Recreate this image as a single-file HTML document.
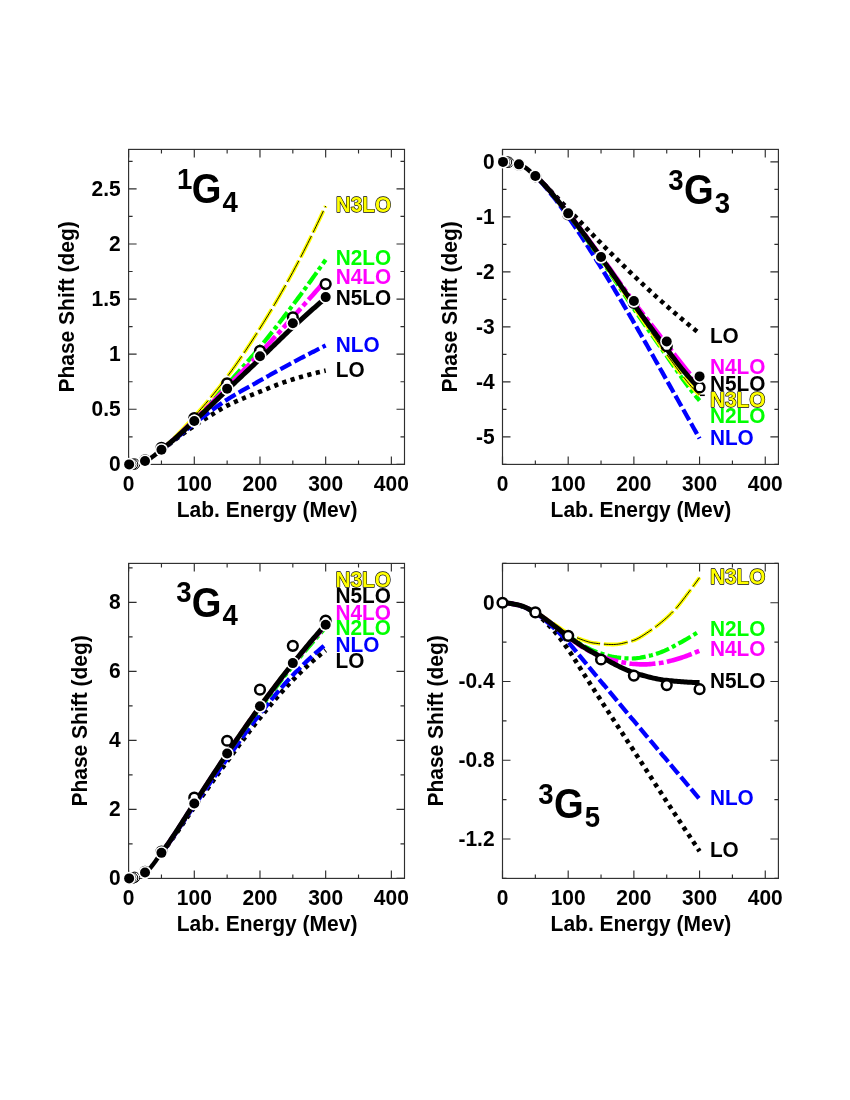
<!DOCTYPE html>
<html lang="en">
<head>
<meta charset="utf-8">
<title>Peripheral NN phase shifts (G waves)</title>
<style>
html,body{margin:0;padding:0;background:#fff;}
body{width:850px;height:1100px;overflow:hidden;font-family:"Liberation Sans",sans-serif;}
svg{display:block;will-change:transform;}
</style>
</head>
<body>
<svg width="850" height="1100" viewBox="0 0 850 1100" font-family='"Liberation Sans", sans-serif' font-weight="bold" fill="#000">
<rect width="850" height="1100" fill="#fff"/>
<g id="p1">
<rect x="128.6" y="149.4" width="275.9" height="315" fill="none" stroke="#2e2e2e" stroke-width="1.15"/>
<path d="M128.6 464.4 v-8 M128.6 149.4 v8 M161.45 464.4 v-4 M161.45 149.4 v4 M194.29 464.4 v-8 M194.29 149.4 v8 M227.14 464.4 v-4 M227.14 149.4 v4 M259.98 464.4 v-8 M259.98 149.4 v8 M292.83 464.4 v-4 M292.83 149.4 v4 M325.67 464.4 v-8 M325.67 149.4 v8 M358.52 464.4 v-4 M358.52 149.4 v4 M391.36 464.4 v-8 M391.36 149.4 v8 M128.6 464.4 h8 M404.5 464.4 h-8 M128.6 436.85 h4 M404.5 436.85 h-4 M128.6 409.29 h8 M404.5 409.29 h-8 M128.6 381.74 h4 M404.5 381.74 h-4 M128.6 354.18 h8 M404.5 354.18 h-8 M128.6 326.63 h4 M404.5 326.63 h-4 M128.6 299.07 h8 M404.5 299.07 h-8 M128.6 271.52 h4 M404.5 271.52 h-4 M128.6 243.97 h8 M404.5 243.97 h-8 M128.6 216.41 h4 M404.5 216.41 h-4 M128.6 188.86 h8 M404.5 188.86 h-8 M128.6 161.3 h4 M404.5 161.3 h-4" stroke="#2e2e2e" stroke-width="1.15" fill="none"/>
<text transform="translate(128.6 490.9) scale(1 1.08)" font-size="21" text-anchor="middle">0</text>
<text transform="translate(194.29 490.9) scale(1 1.08)" font-size="21" text-anchor="middle">100</text>
<text transform="translate(259.98 490.9) scale(1 1.08)" font-size="21" text-anchor="middle">200</text>
<text transform="translate(325.67 490.9) scale(1 1.08)" font-size="21" text-anchor="middle">300</text>
<text transform="translate(391.36 490.9) scale(1 1.08)" font-size="21" text-anchor="middle">400</text>
<text transform="translate(120.7 471.2) scale(1 1.08)" font-size="21" text-anchor="end">0</text>
<text transform="translate(120.7 416.09) scale(1 1.08)" font-size="21" text-anchor="end">0.5</text>
<text transform="translate(120.7 360.98) scale(1 1.08)" font-size="21" text-anchor="end">1</text>
<text transform="translate(120.7 305.87) scale(1 1.08)" font-size="21" text-anchor="end">1.5</text>
<text transform="translate(120.7 250.77) scale(1 1.08)" font-size="21" text-anchor="end">2</text>
<text transform="translate(120.7 195.66) scale(1 1.08)" font-size="21" text-anchor="end">2.5</text>
<text transform="translate(267.05 516.8) scale(1 1.05)" font-size="21" text-anchor="middle">Lab. Energy (Mev)</text>
<text transform="translate(73.8 306.9) rotate(-90) scale(1 1.05)" font-size="21" text-anchor="middle">Phase Shift (deg)</text>
<path d="M161.45 450.07 L162.83 449.08 L164.21 448.07 L165.59 447.03 L166.97 445.98 L168.35 444.92 L169.73 443.85 L171.11 442.78 L172.49 441.71 L173.87 440.64 L175.25 439.59 L176.63 438.54 L178.01 437.52 L179.39 436.5 L180.77 435.48 L182.15 434.46 L183.53 433.45 L184.91 432.44 L186.29 431.44 L187.67 430.45 L189.05 429.46 L190.43 428.49 L191.81 427.53 L193.19 426.57 L194.57 425.64 L195.95 424.71 L197.33 423.8 L198.71 422.9 L200.09 422 L201.47 421.12 L202.85 420.24 L204.23 419.37 L205.61 418.51 L206.99 417.65 L208.37 416.8 L209.75 415.95 L211.13 415.1 L212.51 414.25 L213.89 413.39 L215.27 412.53 L216.65 411.68 L218.03 410.83 L219.41 409.99 L220.79 409.16 L222.17 408.36 L223.55 407.57 L224.93 406.81 L226.31 406.08 L227.69 405.38 L229.07 404.7 L230.45 404.03 L231.83 403.37 L233.21 402.73 L234.59 402.1 L235.97 401.48 L237.35 400.88 L238.73 400.28 L240.11 399.69 L241.49 399.11 L242.87 398.53 L244.25 397.96 L245.63 397.4 L247.01 396.84 L248.39 396.28 L249.77 395.73 L251.15 395.18 L252.53 394.63 L253.91 394.08 L255.29 393.54 L256.67 392.99 L258.05 392.43 L259.43 391.88 L260.81 391.32 L262.19 390.76 L263.57 390.2 L264.95 389.64 L266.33 389.08 L267.71 388.53 L269.09 387.97 L270.47 387.42 L271.85 386.87 L273.23 386.32 L274.61 385.78 L275.99 385.25 L277.37 384.72 L278.75 384.2 L280.13 383.68 L281.51 383.18 L282.89 382.68 L284.27 382.2 L285.65 381.72 L287.03 381.26 L288.41 380.8 L289.79 380.35 L291.17 379.91 L292.55 379.48 L293.93 379.05 L295.31 378.63 L296.69 378.21 L298.07 377.81 L299.45 377.4 L300.83 377 L302.21 376.61 L303.59 376.22 L304.97 375.84 L306.35 375.46 L307.73 375.08 L309.11 374.71 L310.49 374.34 L311.87 373.98 L313.25 373.62 L314.63 373.27 L316.01 372.92 L317.39 372.57 L318.77 372.23 L320.15 371.9 L321.53 371.57 L322.91 371.24 L324.29 370.92 L325.67 370.61" fill="none" stroke="#000" stroke-width="4.6" stroke-dasharray="4.2 4.5" stroke-dashoffset="0.01"/>
<path d="M161.45 449.96 L162.83 448.94 L164.21 447.89 L165.59 446.82 L166.97 445.73 L168.35 444.62 L169.73 443.5 L171.11 442.37 L172.49 441.23 L173.87 440.1 L175.25 438.97 L176.63 437.85 L178.01 436.74 L179.39 435.62 L180.77 434.51 L182.15 433.39 L183.53 432.27 L184.91 431.14 L186.29 430.02 L187.67 428.9 L189.05 427.79 L190.43 426.68 L191.81 425.58 L193.19 424.49 L194.57 423.4 L195.95 422.33 L197.33 421.26 L198.71 420.19 L200.09 419.13 L201.47 418.08 L202.85 417.03 L204.23 415.98 L205.61 414.95 L206.99 413.91 L208.37 412.89 L209.75 411.87 L211.13 410.86 L212.51 409.85 L213.89 408.84 L215.27 407.84 L216.65 406.83 L218.03 405.84 L219.41 404.85 L220.79 403.88 L222.17 402.91 L223.55 401.97 L224.93 401.04 L226.31 400.13 L227.69 399.24 L229.07 398.37 L230.45 397.5 L231.83 396.65 L233.21 395.82 L234.59 394.99 L235.97 394.17 L237.35 393.36 L238.73 392.56 L240.11 391.76 L241.49 390.97 L242.87 390.19 L244.25 389.41 L245.63 388.64 L247.01 387.87 L248.39 387.1 L249.77 386.33 L251.15 385.56 L252.53 384.8 L253.91 384.03 L255.29 383.26 L256.67 382.5 L258.05 381.72 L259.43 380.95 L260.81 380.17 L262.19 379.39 L263.57 378.61 L264.95 377.83 L266.33 377.05 L267.71 376.28 L269.09 375.5 L270.47 374.73 L271.85 373.96 L273.23 373.18 L274.61 372.41 L275.99 371.65 L277.37 370.88 L278.75 370.12 L280.13 369.35 L281.51 368.59 L282.89 367.83 L284.27 367.08 L285.65 366.32 L287.03 365.57 L288.41 364.83 L289.79 364.08 L291.17 363.34 L292.55 362.6 L293.93 361.86 L295.31 361.12 L296.69 360.39 L298.07 359.66 L299.45 358.93 L300.83 358.2 L302.21 357.48 L303.59 356.76 L304.97 356.04 L306.35 355.32 L307.73 354.6 L309.11 353.89 L310.49 353.17 L311.87 352.46 L313.25 351.75 L314.63 351.05 L316.01 350.34 L317.39 349.64 L318.77 348.94 L320.15 348.24 L321.53 347.55 L322.91 346.86 L324.29 346.16 L325.67 345.48" fill="none" stroke="#0000ff" stroke-width="4.3" stroke-dasharray="12.2 3.7" stroke-dashoffset="14.94"/>
<path d="M161.45 449.74 L162.83 448.66 L164.21 447.55 L165.59 446.41 L166.97 445.25 L168.35 444.06 L169.73 442.85 L171.11 441.62 L172.49 440.38 L173.87 439.11 L175.25 437.83 L176.63 436.53 L178.01 435.22 L179.39 433.9 L180.77 432.57 L182.15 431.22 L183.53 429.87 L184.91 428.51 L186.29 427.15 L187.67 425.78 L189.05 424.42 L190.43 423.04 L191.81 421.67 L193.19 420.3 L194.57 418.94 L195.95 417.57 L197.33 416.18 L198.71 414.79 L200.09 413.38 L201.47 411.97 L202.85 410.55 L204.23 409.12 L205.61 407.68 L206.99 406.24 L208.37 404.78 L209.75 403.32 L211.13 401.86 L212.51 400.38 L213.89 398.9 L215.27 397.42 L216.65 395.93 L218.03 394.44 L219.41 392.94 L220.79 391.44 L222.17 389.93 L223.55 388.42 L224.93 386.91 L226.31 385.4 L227.69 383.89 L229.07 382.37 L230.45 380.85 L231.83 379.33 L233.21 377.8 L234.59 376.27 L235.97 374.73 L237.35 373.19 L238.73 371.65 L240.11 370.1 L241.49 368.54 L242.87 366.98 L244.25 365.41 L245.63 363.84 L247.01 362.26 L248.39 360.67 L249.77 359.07 L251.15 357.47 L252.53 355.86 L253.91 354.24 L255.29 352.62 L256.67 350.98 L258.05 349.34 L259.43 347.68 L260.81 346.02 L262.19 344.35 L263.57 342.66 L264.95 340.97 L266.33 339.27 L267.71 337.56 L269.09 335.84 L270.47 334.11 L271.85 332.37 L273.23 330.62 L274.61 328.87 L275.99 327.11 L277.37 325.34 L278.75 323.57 L280.13 321.79 L281.51 320 L282.89 318.2 L284.27 316.4 L285.65 314.6 L287.03 312.79 L288.41 310.97 L289.79 309.15 L291.17 307.33 L292.55 305.5 L293.93 303.67 L295.31 301.83 L296.69 299.98 L298.07 298.13 L299.45 296.27 L300.83 294.41 L302.21 292.53 L303.59 290.65 L304.97 288.77 L306.35 286.88 L307.73 284.98 L309.11 283.07 L310.49 281.16 L311.87 279.24 L313.25 277.32 L314.63 275.39 L316.01 273.45 L317.39 271.51 L318.77 269.56 L320.15 267.61 L321.53 265.65 L322.91 263.68 L324.29 261.71 L325.67 259.73" fill="none" stroke="#00ff00" stroke-width="4.2" stroke-dasharray="14 3.3 4.1 3.3" stroke-dashoffset="0.22"/>
<path d="M161.45 449.52 L162.83 448.39 L164.21 447.22 L165.59 446.02 L166.97 444.79 L168.35 443.53 L169.73 442.25 L171.11 440.94 L172.49 439.6 L173.87 438.24 L175.25 436.86 L176.63 435.46 L178.01 434.04 L179.39 432.6 L180.77 431.15 L182.15 429.68 L183.53 428.21 L184.91 426.72 L186.29 425.23 L187.67 423.72 L189.05 422.21 L190.43 420.7 L191.81 419.19 L193.19 417.67 L194.57 416.15 L195.95 414.63 L197.33 413.09 L198.71 411.55 L200.09 409.99 L201.47 408.42 L202.85 406.83 L204.23 405.24 L205.61 403.63 L206.99 402.01 L208.37 400.37 L209.75 398.72 L211.13 397.06 L212.51 395.39 L213.89 393.7 L215.27 392 L216.65 390.29 L218.03 388.56 L219.41 386.81 L220.79 385.05 L222.17 383.28 L223.55 381.49 L224.93 379.69 L226.31 377.88 L227.69 376.04 L229.07 374.19 L230.45 372.32 L231.83 370.42 L233.21 368.51 L234.59 366.57 L235.97 364.62 L237.35 362.65 L238.73 360.67 L240.11 358.66 L241.49 356.64 L242.87 354.61 L244.25 352.56 L245.63 350.49 L247.01 348.41 L248.39 346.32 L249.77 344.21 L251.15 342.09 L252.53 339.96 L253.91 337.82 L255.29 335.67 L256.67 333.51 L258.05 331.34 L259.43 329.16 L260.81 326.97 L262.19 324.76 L263.57 322.55 L264.95 320.32 L266.33 318.07 L267.71 315.82 L269.09 313.54 L270.47 311.26 L271.85 308.96 L273.23 306.64 L274.61 304.31 L275.99 301.97 L277.37 299.6 L278.75 297.23 L280.13 294.84 L281.51 292.43 L282.89 290 L284.27 287.57 L285.65 285.11 L287.03 282.64 L288.41 280.15 L289.79 277.64 L291.17 275.12 L292.55 272.58 L293.93 270.02 L295.31 267.45 L296.69 264.85 L298.07 262.23 L299.45 259.6 L300.83 256.94 L302.21 254.27 L303.59 251.57 L304.97 248.86 L306.35 246.13 L307.73 243.38 L309.11 240.61 L310.49 237.83 L311.87 235.03 L313.25 232.21 L314.63 229.37 L316.01 226.51 L317.39 223.64 L318.77 220.75 L320.15 217.84 L321.53 214.92 L322.91 211.98 L324.29 209.02 L325.67 206.05" fill="none" stroke="#ffff00" stroke-width="3.8" stroke-dasharray="24 3.8" stroke-dashoffset="11.67"/>
<path d="M161.45 449.52 L162.83 448.39 L164.21 447.22 L165.59 446.02 L166.97 444.79 L168.35 443.53 L169.73 442.25 L171.11 440.94 L172.49 439.6 L173.87 438.24 L175.25 436.86 L176.63 435.46 L178.01 434.04 L179.39 432.6 L180.77 431.15 L182.15 429.68 L183.53 428.21 L184.91 426.72 L186.29 425.23 L187.67 423.72 L189.05 422.21 L190.43 420.7 L191.81 419.19 L193.19 417.67 L194.57 416.15 L195.95 414.63 L197.33 413.09 L198.71 411.55 L200.09 409.99 L201.47 408.42 L202.85 406.83 L204.23 405.24 L205.61 403.63 L206.99 402.01 L208.37 400.37 L209.75 398.72 L211.13 397.06 L212.51 395.39 L213.89 393.7 L215.27 392 L216.65 390.29 L218.03 388.56 L219.41 386.81 L220.79 385.05 L222.17 383.28 L223.55 381.49 L224.93 379.69 L226.31 377.88 L227.69 376.04 L229.07 374.19 L230.45 372.32 L231.83 370.42 L233.21 368.51 L234.59 366.57 L235.97 364.62 L237.35 362.65 L238.73 360.67 L240.11 358.66 L241.49 356.64 L242.87 354.61 L244.25 352.56 L245.63 350.49 L247.01 348.41 L248.39 346.32 L249.77 344.21 L251.15 342.09 L252.53 339.96 L253.91 337.82 L255.29 335.67 L256.67 333.51 L258.05 331.34 L259.43 329.16 L260.81 326.97 L262.19 324.76 L263.57 322.55 L264.95 320.32 L266.33 318.07 L267.71 315.82 L269.09 313.54 L270.47 311.26 L271.85 308.96 L273.23 306.64 L274.61 304.31 L275.99 301.97 L277.37 299.6 L278.75 297.23 L280.13 294.84 L281.51 292.43 L282.89 290 L284.27 287.57 L285.65 285.11 L287.03 282.64 L288.41 280.15 L289.79 277.64 L291.17 275.12 L292.55 272.58 L293.93 270.02 L295.31 267.45 L296.69 264.85 L298.07 262.23 L299.45 259.6 L300.83 256.94 L302.21 254.27 L303.59 251.57 L304.97 248.86 L306.35 246.13 L307.73 243.38 L309.11 240.61 L310.49 237.83 L311.87 235.03 L313.25 232.21 L314.63 229.37 L316.01 226.51 L317.39 223.64 L318.77 220.75 L320.15 217.84 L321.53 214.92 L322.91 211.98 L324.29 209.02 L325.67 206.05" fill="none" stroke="#000" stroke-width="0.95" stroke-dasharray="24 3.8" stroke-dashoffset="11.67"/>
<path d="M161.45 449.74 L162.83 448.67 L164.21 447.58 L165.59 446.47 L166.97 445.34 L168.35 444.18 L169.73 443.01 L171.11 441.82 L172.49 440.62 L173.87 439.4 L175.25 438.16 L176.63 436.91 L178.01 435.65 L179.39 434.38 L180.77 433.1 L182.15 431.82 L183.53 430.52 L184.91 429.22 L186.29 427.92 L187.67 426.61 L189.05 425.3 L190.43 423.98 L191.81 422.67 L193.19 421.36 L194.57 420.05 L195.95 418.73 L197.33 417.41 L198.71 416.07 L200.09 414.72 L201.47 413.37 L202.85 412 L204.23 410.63 L205.61 409.25 L206.99 407.86 L208.37 406.47 L209.75 405.07 L211.13 403.67 L212.51 402.26 L213.89 400.85 L215.27 399.44 L216.65 398.02 L218.03 396.6 L219.41 395.18 L220.79 393.77 L222.17 392.35 L223.55 390.93 L224.93 389.51 L226.31 388.1 L227.69 386.68 L229.07 385.27 L230.45 383.86 L231.83 382.44 L233.21 381.02 L234.59 379.6 L235.97 378.18 L237.35 376.76 L238.73 375.34 L240.11 373.91 L241.49 372.48 L242.87 371.05 L244.25 369.62 L245.63 368.18 L247.01 366.75 L248.39 365.3 L249.77 363.86 L251.15 362.41 L252.53 360.96 L253.91 359.51 L255.29 358.06 L256.67 356.6 L258.05 355.13 L259.43 353.67 L260.81 352.2 L262.19 350.72 L263.57 349.25 L264.95 347.77 L266.33 346.28 L267.71 344.79 L269.09 343.3 L270.47 341.81 L271.85 340.31 L273.23 338.81 L274.61 337.3 L275.99 335.8 L277.37 334.29 L278.75 332.78 L280.13 331.26 L281.51 329.75 L282.89 328.23 L284.27 326.71 L285.65 325.19 L287.03 323.67 L288.41 322.14 L289.79 320.62 L291.17 319.09 L292.55 317.57 L293.93 316.04 L295.31 314.51 L296.69 312.97 L298.07 311.44 L299.45 309.9 L300.83 308.37 L302.21 306.82 L303.59 305.28 L304.97 303.74 L306.35 302.19 L307.73 300.64 L309.11 299.09 L310.49 297.54 L311.87 295.99 L313.25 294.43 L314.63 292.87 L316.01 291.31 L317.39 289.75 L318.77 288.19 L320.15 286.62 L321.53 285.05 L322.91 283.48 L324.29 281.91 L325.67 280.34" fill="none" stroke="#ff00ff" stroke-width="4.6" stroke-dasharray="26 3.4 4.8 3.4" stroke-dashoffset="15.46"/>
<path d="M161.45 449.74 L162.83 448.69 L164.21 447.61 L165.59 446.51 L166.97 445.39 L168.35 444.26 L169.73 443.11 L171.11 441.94 L172.49 440.76 L173.87 439.57 L175.25 438.36 L176.63 437.14 L178.01 435.92 L179.39 434.68 L180.77 433.44 L182.15 432.19 L183.53 430.93 L184.91 429.67 L186.29 428.41 L187.67 427.14 L189.05 425.88 L190.43 424.61 L191.81 423.35 L193.19 422.09 L194.57 420.83 L195.95 419.57 L197.33 418.3 L198.71 417.02 L200.09 415.74 L201.47 414.44 L202.85 413.14 L204.23 411.84 L205.61 410.53 L206.99 409.21 L208.37 407.9 L209.75 406.57 L211.13 405.25 L212.51 403.92 L213.89 402.6 L215.27 401.27 L216.65 399.94 L218.03 398.61 L219.41 397.28 L220.79 395.95 L222.17 394.63 L223.55 393.31 L224.93 391.99 L226.31 390.68 L227.69 389.37 L229.07 388.06 L230.45 386.76 L231.83 385.45 L233.21 384.15 L234.59 382.84 L235.97 381.54 L237.35 380.24 L238.73 378.94 L240.11 377.64 L241.49 376.33 L242.87 375.03 L244.25 373.73 L245.63 372.43 L247.01 371.12 L248.39 369.82 L249.77 368.51 L251.15 367.21 L252.53 365.9 L253.91 364.59 L255.29 363.28 L256.67 361.97 L258.05 360.65 L259.43 359.34 L260.81 358.02 L262.19 356.7 L263.57 355.37 L264.95 354.03 L266.33 352.7 L267.71 351.35 L269.09 350.01 L270.47 348.66 L271.85 347.32 L273.23 345.97 L274.61 344.62 L275.99 343.28 L277.37 341.93 L278.75 340.59 L280.13 339.25 L281.51 337.91 L282.89 336.58 L284.27 335.25 L285.65 333.93 L287.03 332.62 L288.41 331.31 L289.79 330.01 L291.17 328.72 L292.55 327.44 L293.93 326.16 L295.31 324.89 L296.69 323.62 L298.07 322.36 L299.45 321.1 L300.83 319.85 L302.21 318.59 L303.59 317.35 L304.97 316.11 L306.35 314.87 L307.73 313.63 L309.11 312.4 L310.49 311.18 L311.87 309.95 L313.25 308.74 L314.63 307.52 L316.01 306.31 L317.39 305.11 L318.77 303.91 L320.15 302.71 L321.53 301.52 L322.91 300.33 L324.29 299.15 L325.67 297.97" fill="none" stroke="#000" stroke-width="5.0"/>
<path d="M145.02 460.98 L146.52 460.42 L148.01 459.7 L149.5 458.85 L150.99 457.88 L152.49 456.82 L153.98 455.69 L155.47 454.51 L156.97 453.3 L158.46 452.09 L159.95 450.9 L161.45 449.74" fill="none" stroke="#000" stroke-width="4.4"/>
<circle cx="134.51" cy="464.07" r="5.25" fill="#fff" stroke="#000" stroke-width="1"/>
<circle cx="132.54" cy="464.29" r="5.25" fill="#fff" stroke="#000" stroke-width="1"/>
<circle cx="130.57" cy="464.4" r="5.25" fill="#fff" stroke="#000" stroke-width="1"/>
<circle cx="145.02" cy="460.43" r="4.85" fill="#fff" stroke="#000" stroke-width="2.5"/>
<circle cx="161.45" cy="447.87" r="4.85" fill="#fff" stroke="#000" stroke-width="2.5"/>
<circle cx="194.29" cy="418.11" r="4.85" fill="#fff" stroke="#000" stroke-width="2.5"/>
<circle cx="227.14" cy="383.39" r="4.85" fill="#fff" stroke="#000" stroke-width="2.5"/>
<circle cx="259.98" cy="350.88" r="4.85" fill="#fff" stroke="#000" stroke-width="2.5"/>
<circle cx="292.83" cy="317.26" r="4.85" fill="#fff" stroke="#000" stroke-width="2.5"/>
<circle cx="325.67" cy="284.09" r="4.85" fill="#fff" stroke="#000" stroke-width="2.5"/>
<circle cx="129.13" cy="464.4" r="6.6" fill="#fff"/><circle cx="129.13" cy="464.4" r="5.0" fill="#000"/>
<circle cx="145.02" cy="460.98" r="6.6" fill="#fff"/><circle cx="145.02" cy="460.98" r="5.0" fill="#000"/>
<circle cx="161.45" cy="449.74" r="6.6" fill="#fff"/><circle cx="161.45" cy="449.74" r="5.0" fill="#000"/>
<circle cx="194.29" cy="421.08" r="6.6" fill="#fff"/><circle cx="194.29" cy="421.08" r="5.0" fill="#000"/>
<circle cx="227.14" cy="388.79" r="6.6" fill="#fff"/><circle cx="227.14" cy="388.79" r="5.0" fill="#000"/>
<circle cx="259.98" cy="356.28" r="6.6" fill="#fff"/><circle cx="259.98" cy="356.28" r="5.0" fill="#000"/>
<circle cx="292.83" cy="323.32" r="6.6" fill="#fff"/><circle cx="292.83" cy="323.32" r="5.0" fill="#000"/>
<circle cx="325.67" cy="297.09" r="6.6" fill="#fff"/><circle cx="325.67" cy="297.09" r="5.0" fill="#000"/>
<text transform="translate(335.7 212.2) scale(1 1.05)" font-size="20.8" fill="#ffff00" stroke="#000" stroke-width="1.2" paint-order="stroke" stroke-linejoin="round">N3LO</text>
<text transform="translate(335.7 265.2) scale(1 1.05)" font-size="20.8" fill="#00ff00">N2LO</text>
<text transform="translate(335.7 284.4) scale(1 1.05)" font-size="20.8" fill="#ff00ff">N4LO</text>
<text transform="translate(335.7 305.4) scale(1 1.05)" font-size="20.8" fill="#000">N5LO</text>
<text transform="translate(335.7 352.1) scale(1 1.05)" font-size="20.8" fill="#0000ff">NLO</text>
<text transform="translate(335.7 377.3) scale(1 1.05)" font-size="20.8" fill="#000">LO</text>
<text transform="translate(177 188.7) scale(1 1.1)" font-size="27.6">1</text><text transform="translate(191.7 203) scale(1 1.12)" font-size="38.2">G</text><text transform="translate(222.5 211.6) scale(1 1.1)" font-size="27.6">4</text>
</g>
<g id="p2">
<rect x="502.5" y="149.4" width="275.9" height="315" fill="none" stroke="#2e2e2e" stroke-width="1.15"/>
<path d="M502.5 464.4 v-8 M502.5 149.4 v8 M535.35 464.4 v-4 M535.35 149.4 v4 M568.19 464.4 v-8 M568.19 149.4 v8 M601.04 464.4 v-4 M601.04 149.4 v4 M633.88 464.4 v-8 M633.88 149.4 v8 M666.73 464.4 v-4 M666.73 149.4 v4 M699.57 464.4 v-8 M699.57 149.4 v8 M732.42 464.4 v-4 M732.42 149.4 v4 M765.26 464.4 v-8 M765.26 149.4 v8 M502.5 464.4 h4 M778.4 464.4 h-4 M502.5 436.9 h8 M778.4 436.9 h-8 M502.5 409.4 h4 M778.4 409.4 h-4 M502.5 381.9 h8 M778.4 381.9 h-8 M502.5 354.39 h4 M778.4 354.39 h-4 M502.5 326.89 h8 M778.4 326.89 h-8 M502.5 299.39 h4 M778.4 299.39 h-4 M502.5 271.89 h8 M778.4 271.89 h-8 M502.5 244.39 h4 M778.4 244.39 h-4 M502.5 216.89 h8 M778.4 216.89 h-8 M502.5 189.39 h4 M778.4 189.39 h-4 M502.5 161.89 h8 M778.4 161.89 h-8" stroke="#2e2e2e" stroke-width="1.15" fill="none"/>
<text transform="translate(502.5 490.9) scale(1 1.08)" font-size="21" text-anchor="middle">0</text>
<text transform="translate(568.19 490.9) scale(1 1.08)" font-size="21" text-anchor="middle">100</text>
<text transform="translate(633.88 490.9) scale(1 1.08)" font-size="21" text-anchor="middle">200</text>
<text transform="translate(699.57 490.9) scale(1 1.08)" font-size="21" text-anchor="middle">300</text>
<text transform="translate(765.26 490.9) scale(1 1.08)" font-size="21" text-anchor="middle">400</text>
<text transform="translate(494.6 168.69) scale(1 1.08)" font-size="21" text-anchor="end">0</text>
<text transform="translate(494.6 223.69) scale(1 1.08)" font-size="21" text-anchor="end">-1</text>
<text transform="translate(494.6 278.69) scale(1 1.08)" font-size="21" text-anchor="end">-2</text>
<text transform="translate(494.6 333.69) scale(1 1.08)" font-size="21" text-anchor="end">-3</text>
<text transform="translate(494.6 388.7) scale(1 1.08)" font-size="21" text-anchor="end">-4</text>
<text transform="translate(494.6 443.7) scale(1 1.08)" font-size="21" text-anchor="end">-5</text>
<text transform="translate(640.95 516.8) scale(1 1.05)" font-size="21" text-anchor="middle">Lab. Energy (Mev)</text>
<text transform="translate(456.7 306.9) rotate(-90) scale(1 1.05)" font-size="21" text-anchor="middle">Phase Shift (deg)</text>
<path d="M535.35 175.64 L536.73 176.8 L538.11 178.04 L539.49 179.35 L540.87 180.7 L542.25 182.1 L543.63 183.54 L545.01 184.99 L546.39 186.47 L547.77 187.94 L549.15 189.41 L550.53 190.86 L551.91 192.28 L553.29 193.69 L554.67 195.11 L556.05 196.54 L557.43 197.97 L558.81 199.41 L560.19 200.84 L561.57 202.28 L562.95 203.72 L564.33 205.16 L565.71 206.6 L567.09 208.04 L568.47 209.47 L569.85 210.91 L571.23 212.35 L572.61 213.79 L573.99 215.23 L575.37 216.67 L576.75 218.11 L578.13 219.56 L579.51 221 L580.89 222.45 L582.27 223.89 L583.65 225.33 L585.03 226.78 L586.41 228.22 L587.79 229.66 L589.17 231.09 L590.55 232.52 L591.93 233.96 L593.31 235.38 L594.69 236.8 L596.07 238.22 L597.45 239.64 L598.83 241.05 L600.21 242.45 L601.59 243.85 L602.97 245.24 L604.35 246.64 L605.73 248.03 L607.11 249.42 L608.49 250.81 L609.87 252.19 L611.25 253.57 L612.63 254.95 L614.01 256.33 L615.39 257.7 L616.77 259.07 L618.15 260.44 L619.53 261.8 L620.91 263.16 L622.29 264.52 L623.67 265.87 L625.05 267.22 L626.43 268.56 L627.81 269.9 L629.19 271.24 L630.57 272.57 L631.95 273.89 L633.33 275.21 L634.71 276.53 L636.09 277.84 L637.47 279.15 L638.85 280.46 L640.23 281.76 L641.61 283.07 L642.99 284.36 L644.37 285.66 L645.75 286.95 L647.13 288.24 L648.51 289.52 L649.89 290.8 L651.27 292.07 L652.65 293.34 L654.03 294.61 L655.41 295.87 L656.79 297.12 L658.17 298.37 L659.55 299.61 L660.93 300.85 L662.31 302.09 L663.69 303.31 L665.07 304.54 L666.45 305.75 L667.83 306.96 L669.21 308.16 L670.59 309.36 L671.97 310.56 L673.35 311.75 L674.73 312.94 L676.11 314.12 L677.49 315.3 L678.87 316.47 L680.25 317.64 L681.63 318.8 L683.01 319.96 L684.39 321.12 L685.77 322.27 L687.15 323.41 L688.53 324.55 L689.91 325.69 L691.29 326.82 L692.67 327.94 L694.05 329.06 L695.43 330.18 L696.81 331.29 L698.19 332.39 L699.57 333.49" fill="none" stroke="#000" stroke-width="4.6" stroke-dasharray="4.2 4.5" stroke-dashoffset="5.71"/>
<path d="M535.35 176.19 L536.73 177.45 L538.11 178.8 L539.49 180.23 L540.87 181.73 L542.25 183.29 L543.63 184.9 L545.01 186.55 L546.39 188.23 L547.77 189.93 L549.15 191.64 L550.53 193.35 L551.91 195.06 L553.29 196.77 L554.67 198.52 L556.05 200.3 L557.43 202.1 L558.81 203.92 L560.19 205.77 L561.57 207.65 L562.95 209.54 L564.33 211.45 L565.71 213.38 L567.09 215.32 L568.47 217.28 L569.85 219.26 L571.23 221.25 L572.61 223.27 L573.99 225.3 L575.37 227.35 L576.75 229.41 L578.13 231.49 L579.51 233.58 L580.89 235.69 L582.27 237.81 L583.65 239.94 L585.03 242.08 L586.41 244.24 L587.79 246.4 L589.17 248.57 L590.55 250.75 L591.93 252.94 L593.31 255.13 L594.69 257.33 L596.07 259.53 L597.45 261.74 L598.83 263.95 L600.21 266.16 L601.59 268.38 L602.97 270.6 L604.35 272.84 L605.73 275.08 L607.11 277.34 L608.49 279.61 L609.87 281.88 L611.25 284.16 L612.63 286.46 L614.01 288.76 L615.39 291.06 L616.77 293.38 L618.15 295.7 L619.53 298.03 L620.91 300.36 L622.29 302.7 L623.67 305.04 L625.05 307.39 L626.43 309.74 L627.81 312.1 L629.19 314.45 L630.57 316.82 L631.95 319.18 L633.33 321.55 L634.71 323.92 L636.09 326.29 L637.47 328.68 L638.85 331.07 L640.23 333.47 L641.61 335.88 L642.99 338.29 L644.37 340.71 L645.75 343.13 L647.13 345.56 L648.51 347.99 L649.89 350.43 L651.27 352.87 L652.65 355.31 L654.03 357.75 L655.41 360.2 L656.79 362.64 L658.17 365.09 L659.55 367.54 L660.93 369.99 L662.31 372.43 L663.69 374.88 L665.07 377.32 L666.45 379.76 L667.83 382.2 L669.21 384.64 L670.59 387.08 L671.97 389.52 L673.35 391.96 L674.73 394.4 L676.11 396.85 L677.49 399.29 L678.87 401.74 L680.25 404.19 L681.63 406.63 L683.01 409.08 L684.39 411.53 L685.77 413.98 L687.15 416.44 L688.53 418.89 L689.91 421.34 L691.29 423.8 L692.67 426.25 L694.05 428.71 L695.43 431.17 L696.81 433.63 L698.19 436.09 L699.57 438.55" fill="none" stroke="#0000ff" stroke-width="4.3" stroke-dasharray="12.2 3.7" stroke-dashoffset="9.36"/>
<path d="M535.35 176.02 L536.73 177.23 L538.11 178.5 L539.49 179.82 L540.87 181.19 L542.25 182.61 L543.63 184.07 L545.01 185.57 L546.39 187.1 L547.77 188.68 L549.15 190.28 L550.53 191.92 L551.91 193.58 L553.29 195.26 L554.67 196.96 L556.05 198.68 L557.43 200.42 L558.81 202.17 L560.19 203.92 L561.57 205.69 L562.95 207.45 L564.33 209.22 L565.71 210.98 L567.09 212.74 L568.47 214.49 L569.85 216.25 L571.23 218.03 L572.61 219.84 L573.99 221.66 L575.37 223.51 L576.75 225.37 L578.13 227.24 L579.51 229.14 L580.89 231.04 L582.27 232.96 L583.65 234.89 L585.03 236.84 L586.41 238.79 L587.79 240.75 L589.17 242.72 L590.55 244.69 L591.93 246.67 L593.31 248.66 L594.69 250.64 L596.07 252.63 L597.45 254.62 L598.83 256.61 L600.21 258.6 L601.59 260.59 L602.97 262.58 L604.35 264.6 L605.73 266.62 L607.11 268.65 L608.49 270.7 L609.87 272.75 L611.25 274.81 L612.63 276.88 L614.01 278.96 L615.39 281.03 L616.77 283.12 L618.15 285.2 L619.53 287.28 L620.91 289.37 L622.29 291.45 L623.67 293.53 L625.05 295.61 L626.43 297.68 L627.81 299.75 L629.19 301.81 L630.57 303.86 L631.95 305.9 L633.33 307.93 L634.71 309.95 L636.09 311.97 L637.47 313.99 L638.85 316 L640.23 318 L641.61 320.01 L642.99 322.01 L644.37 324 L645.75 326 L647.13 327.99 L648.51 329.98 L649.89 331.96 L651.27 333.95 L652.65 335.93 L654.03 337.91 L655.41 339.89 L656.79 341.86 L658.17 343.83 L659.55 345.81 L660.93 347.78 L662.31 349.75 L663.69 351.72 L665.07 353.68 L666.45 355.65 L667.83 357.62 L669.21 359.6 L670.59 361.59 L671.97 363.59 L673.35 365.59 L674.73 367.59 L676.11 369.58 L677.49 371.57 L678.87 373.56 L680.25 375.53 L681.63 377.48 L683.01 379.42 L684.39 381.34 L685.77 383.23 L687.15 385.1 L688.53 386.94 L689.91 388.75 L691.29 390.52 L692.67 392.26 L694.05 393.98 L695.43 395.66 L696.81 397.33 L698.19 398.97 L699.57 400.6" fill="none" stroke="#00ff00" stroke-width="4.2" stroke-dasharray="14 3.3 4.1 3.3"/>
<path d="M535.35 176.02 L536.73 177.23 L538.11 178.49 L539.49 179.81 L540.87 181.17 L542.25 182.58 L543.63 184.04 L545.01 185.53 L546.39 187.06 L547.77 188.62 L549.15 190.22 L550.53 191.84 L551.91 193.49 L553.29 195.16 L554.67 196.86 L556.05 198.56 L557.43 200.29 L558.81 202.02 L560.19 203.76 L561.57 205.5 L562.95 207.25 L564.33 209 L565.71 210.74 L567.09 212.48 L568.47 214.21 L569.85 215.95 L571.23 217.71 L572.61 219.48 L573.99 221.28 L575.37 223.09 L576.75 224.91 L578.13 226.76 L579.51 228.61 L580.89 230.48 L582.27 232.36 L583.65 234.26 L585.03 236.16 L586.41 238.07 L587.79 239.99 L589.17 241.92 L590.55 243.86 L591.93 245.8 L593.31 247.75 L594.69 249.7 L596.07 251.65 L597.45 253.6 L598.83 255.56 L600.21 257.52 L601.59 259.47 L602.97 261.44 L604.35 263.42 L605.73 265.42 L607.11 267.43 L608.49 269.44 L609.87 271.47 L611.25 273.5 L612.63 275.54 L614.01 277.59 L615.39 279.64 L616.77 281.7 L618.15 283.76 L619.53 285.82 L620.91 287.88 L622.29 289.94 L623.67 292 L625.05 294.06 L626.43 296.11 L627.81 298.16 L629.19 300.2 L630.57 302.24 L631.95 304.27 L633.33 306.29 L634.71 308.3 L636.09 310.31 L637.47 312.33 L638.85 314.35 L640.23 316.37 L641.61 318.39 L642.99 320.41 L644.37 322.43 L645.75 324.45 L647.13 326.47 L648.51 328.48 L649.89 330.49 L651.27 332.5 L652.65 334.49 L654.03 336.49 L655.41 338.47 L656.79 340.45 L658.17 342.42 L659.55 344.38 L660.93 346.33 L662.31 348.27 L663.69 350.2 L665.07 352.11 L666.45 354.02 L667.83 355.91 L669.21 357.81 L670.59 359.71 L671.97 361.61 L673.35 363.51 L674.73 365.4 L676.11 367.28 L677.49 369.15 L678.87 371 L680.25 372.83 L681.63 374.64 L683.01 376.43 L684.39 378.19 L685.77 379.91 L687.15 381.6 L688.53 383.26 L689.91 384.87 L691.29 386.44 L692.67 387.97 L694.05 389.46 L695.43 390.91 L696.81 392.33 L698.19 393.73 L699.57 395.1" fill="none" stroke="#ffff00" stroke-width="3.8" stroke-dasharray="24 3.8"/>
<path d="M535.35 176.02 L536.73 177.23 L538.11 178.49 L539.49 179.81 L540.87 181.17 L542.25 182.58 L543.63 184.04 L545.01 185.53 L546.39 187.06 L547.77 188.62 L549.15 190.22 L550.53 191.84 L551.91 193.49 L553.29 195.16 L554.67 196.86 L556.05 198.56 L557.43 200.29 L558.81 202.02 L560.19 203.76 L561.57 205.5 L562.95 207.25 L564.33 209 L565.71 210.74 L567.09 212.48 L568.47 214.21 L569.85 215.95 L571.23 217.71 L572.61 219.48 L573.99 221.28 L575.37 223.09 L576.75 224.91 L578.13 226.76 L579.51 228.61 L580.89 230.48 L582.27 232.36 L583.65 234.26 L585.03 236.16 L586.41 238.07 L587.79 239.99 L589.17 241.92 L590.55 243.86 L591.93 245.8 L593.31 247.75 L594.69 249.7 L596.07 251.65 L597.45 253.6 L598.83 255.56 L600.21 257.52 L601.59 259.47 L602.97 261.44 L604.35 263.42 L605.73 265.42 L607.11 267.43 L608.49 269.44 L609.87 271.47 L611.25 273.5 L612.63 275.54 L614.01 277.59 L615.39 279.64 L616.77 281.7 L618.15 283.76 L619.53 285.82 L620.91 287.88 L622.29 289.94 L623.67 292 L625.05 294.06 L626.43 296.11 L627.81 298.16 L629.19 300.2 L630.57 302.24 L631.95 304.27 L633.33 306.29 L634.71 308.3 L636.09 310.31 L637.47 312.33 L638.85 314.35 L640.23 316.37 L641.61 318.39 L642.99 320.41 L644.37 322.43 L645.75 324.45 L647.13 326.47 L648.51 328.48 L649.89 330.49 L651.27 332.5 L652.65 334.49 L654.03 336.49 L655.41 338.47 L656.79 340.45 L658.17 342.42 L659.55 344.38 L660.93 346.33 L662.31 348.27 L663.69 350.2 L665.07 352.11 L666.45 354.02 L667.83 355.91 L669.21 357.81 L670.59 359.71 L671.97 361.61 L673.35 363.51 L674.73 365.4 L676.11 367.28 L677.49 369.15 L678.87 371 L680.25 372.83 L681.63 374.64 L683.01 376.43 L684.39 378.19 L685.77 379.91 L687.15 381.6 L688.53 383.26 L689.91 384.87 L691.29 386.44 L692.67 387.97 L694.05 389.46 L695.43 390.91 L696.81 392.33 L698.19 393.73 L699.57 395.1" fill="none" stroke="#000" stroke-width="0.95" stroke-dasharray="24 3.8"/>
<path d="M535.35 175.97 L536.73 177.17 L538.11 178.42 L539.49 179.73 L540.87 181.08 L542.25 182.48 L543.63 183.92 L545.01 185.4 L546.39 186.92 L547.77 188.47 L549.15 190.05 L550.53 191.65 L551.91 193.29 L553.29 194.94 L554.67 196.61 L556.05 198.29 L557.43 199.99 L558.81 201.7 L560.19 203.41 L561.57 205.13 L562.95 206.84 L564.33 208.56 L565.71 210.26 L567.09 211.96 L568.47 213.65 L569.85 215.35 L571.23 217.06 L572.61 218.78 L573.99 220.53 L575.37 222.28 L576.75 224.06 L578.13 225.84 L579.51 227.63 L580.89 229.44 L582.27 231.25 L583.65 233.08 L585.03 234.91 L586.41 236.75 L587.79 238.6 L589.17 240.45 L590.55 242.31 L591.93 244.17 L593.31 246.03 L594.69 247.9 L596.07 249.77 L597.45 251.64 L598.83 253.5 L600.21 255.37 L601.59 257.24 L602.97 259.12 L604.35 261.01 L605.73 262.91 L607.11 264.83 L608.49 266.75 L609.87 268.68 L611.25 270.62 L612.63 272.57 L614.01 274.52 L615.39 276.47 L616.77 278.42 L618.15 280.37 L619.53 282.32 L620.91 284.27 L622.29 286.21 L623.67 288.15 L625.05 290.07 L626.43 291.99 L627.81 293.9 L629.19 295.8 L630.57 297.68 L631.95 299.55 L633.33 301.41 L634.71 303.24 L636.09 305.06 L637.47 306.86 L638.85 308.65 L640.23 310.43 L641.61 312.2 L642.99 313.96 L644.37 315.72 L645.75 317.48 L647.13 319.23 L648.51 321 L649.89 322.77 L651.27 324.54 L652.65 326.32 L654.03 328.11 L655.41 329.89 L656.79 331.68 L658.17 333.47 L659.55 335.25 L660.93 337.04 L662.31 338.82 L663.69 340.6 L665.07 342.37 L666.45 344.14 L667.83 345.91 L669.21 347.69 L670.59 349.48 L671.97 351.27 L673.35 353.06 L674.73 354.86 L676.11 356.65 L677.49 358.44 L678.87 360.22 L680.25 361.99 L681.63 363.75 L683.01 365.5 L684.39 367.23 L685.77 368.94 L687.15 370.62 L688.53 372.29 L689.91 373.93 L691.29 375.54 L692.67 377.11 L694.05 378.66 L695.43 380.19 L696.81 381.69 L698.19 383.18 L699.57 384.65" fill="none" stroke="#ff00ff" stroke-width="4.6" stroke-dasharray="26 3.4 4.8 3.4"/>
<path d="M535.35 175.97 L536.73 177.17 L538.11 178.43 L539.49 179.74 L540.87 181.1 L542.25 182.5 L543.63 183.95 L545.01 185.44 L546.39 186.96 L547.77 188.52 L549.15 190.11 L550.53 191.73 L551.91 193.37 L553.29 195.03 L554.67 196.72 L556.05 198.41 L557.43 200.13 L558.81 201.85 L560.19 203.58 L561.57 205.31 L562.95 207.04 L564.33 208.77 L565.71 210.5 L567.09 212.22 L568.47 213.93 L569.85 215.65 L571.23 217.38 L572.61 219.14 L573.99 220.91 L575.37 222.69 L576.75 224.49 L578.13 226.31 L579.51 228.14 L580.89 229.97 L582.27 231.82 L583.65 233.68 L585.03 235.55 L586.41 237.43 L587.79 239.32 L589.17 241.21 L590.55 243.1 L591.93 245 L593.31 246.91 L594.69 248.81 L596.07 250.72 L597.45 252.63 L598.83 254.54 L600.21 256.45 L601.59 258.35 L602.97 260.27 L604.35 262.2 L605.73 264.14 L607.11 266.09 L608.49 268.05 L609.87 270.02 L611.25 271.99 L612.63 273.97 L614.01 275.96 L615.39 277.94 L616.77 279.93 L618.15 281.93 L619.53 283.92 L620.91 285.91 L622.29 287.89 L623.67 289.88 L625.05 291.86 L626.43 293.83 L627.81 295.8 L629.19 297.76 L630.57 299.71 L631.95 301.65 L633.33 303.57 L634.71 305.49 L636.09 307.4 L637.47 309.31 L638.85 311.22 L640.23 313.12 L641.61 315.01 L642.99 316.9 L644.37 318.79 L645.75 320.68 L647.13 322.56 L648.51 324.43 L649.89 326.31 L651.27 328.18 L652.65 330.04 L654.03 331.91 L655.41 333.77 L656.79 335.62 L658.17 337.48 L659.55 339.32 L660.93 341.17 L662.31 343.01 L663.69 344.86 L665.07 346.69 L666.45 348.53 L667.83 350.37 L669.21 352.21 L670.59 354.07 L671.97 355.92 L673.35 357.77 L674.73 359.61 L676.11 361.44 L677.49 363.25 L678.87 365.03 L680.25 366.78 L681.63 368.5 L683.01 370.18 L684.39 371.82 L685.77 373.45 L687.15 375.05 L688.53 376.64 L689.91 378.2 L691.29 379.74 L692.67 381.26 L694.05 382.75 L695.43 384.23 L696.81 385.67 L698.19 387.1 L699.57 388.5" fill="none" stroke="#000" stroke-width="5.0"/>
<path d="M700 395.3 H704.8" stroke="#000" stroke-width="1.5" fill="none"/>
<path d="M518.92 164.36 L520.42 164.83 L521.91 165.49 L523.4 166.31 L524.89 167.27 L526.39 168.35 L527.88 169.52 L529.37 170.76 L530.87 172.05 L532.36 173.36 L533.85 174.68 L535.35 175.97" fill="none" stroke="#000" stroke-width="4.4"/>
<circle cx="508.41" cy="162.22" r="5.25" fill="#fff" stroke="#000" stroke-width="1"/>
<circle cx="506.44" cy="162" r="5.25" fill="#fff" stroke="#000" stroke-width="1"/>
<circle cx="504.47" cy="161.89" r="5.25" fill="#fff" stroke="#000" stroke-width="1"/>
<circle cx="518.92" cy="164.64" r="4.85" fill="#fff" stroke="#000" stroke-width="2.5"/>
<circle cx="535.35" cy="176.3" r="4.85" fill="#fff" stroke="#000" stroke-width="2.5"/>
<circle cx="568.19" cy="214.41" r="4.85" fill="#fff" stroke="#000" stroke-width="2.5"/>
<circle cx="601.04" cy="257.7" r="4.85" fill="#fff" stroke="#000" stroke-width="2.5"/>
<circle cx="633.88" cy="302.97" r="4.85" fill="#fff" stroke="#000" stroke-width="2.5"/>
<circle cx="666.73" cy="346.14" r="4.85" fill="#fff" stroke="#000" stroke-width="2.5"/>
<circle cx="699.57" cy="387.4" r="4.85" fill="#fff" stroke="#000" stroke-width="2.5"/>
<circle cx="503.03" cy="161.89" r="6.6" fill="#fff"/><circle cx="503.03" cy="161.89" r="5.0" fill="#000"/>
<circle cx="518.92" cy="164.36" r="6.6" fill="#fff"/><circle cx="518.92" cy="164.36" r="5.0" fill="#000"/>
<circle cx="535.35" cy="175.97" r="6.6" fill="#fff"/><circle cx="535.35" cy="175.97" r="5.0" fill="#000"/>
<circle cx="568.19" cy="213.37" r="6.6" fill="#fff"/><circle cx="568.19" cy="213.37" r="5.0" fill="#000"/>
<circle cx="601.04" cy="257.04" r="6.6" fill="#fff"/><circle cx="601.04" cy="257.04" r="5.0" fill="#000"/>
<circle cx="633.88" cy="301.04" r="6.6" fill="#fff"/><circle cx="633.88" cy="301.04" r="5.0" fill="#000"/>
<circle cx="666.73" cy="341.47" r="6.6" fill="#fff"/><circle cx="666.73" cy="341.47" r="5.0" fill="#000"/>
<circle cx="699.57" cy="376.4" r="6.6" fill="#fff"/><circle cx="699.57" cy="376.4" r="5.0" fill="#000"/>
<text transform="translate(709.9 343.4) scale(1 1.05)" font-size="20.8" fill="#000">LO</text>
<text transform="translate(709.9 373.8) scale(1 1.05)" font-size="20.8" fill="#ff00ff">N4LO</text>
<text transform="translate(709.9 391) scale(1 1.05)" font-size="20.8" fill="#000">N5LO</text>
<text transform="translate(709.9 407) scale(1 1.05)" font-size="20.8" fill="#ffff00" stroke="#000" stroke-width="1.2" paint-order="stroke" stroke-linejoin="round">N3LO</text>
<text transform="translate(709.9 423.4) scale(1 1.05)" font-size="20.8" fill="#00ff00">N2LO</text>
<text transform="translate(709.9 445.3) scale(1 1.05)" font-size="20.8" fill="#0000ff">NLO</text>
<text transform="translate(668.3 189.6) scale(1 1.1)" font-size="27.6">3</text><text transform="translate(683.9 203.9) scale(1 1.12)" font-size="38.2">G</text><text transform="translate(714.7 212.5) scale(1 1.1)" font-size="27.6">3</text>
</g>
<g id="p3">
<rect x="128.6" y="563.4" width="275.9" height="315" fill="none" stroke="#2e2e2e" stroke-width="1.15"/>
<path d="M128.6 878.4 v-8 M128.6 563.4 v8 M161.45 878.4 v-4 M161.45 563.4 v4 M194.29 878.4 v-8 M194.29 563.4 v8 M227.14 878.4 v-4 M227.14 563.4 v4 M259.98 878.4 v-8 M259.98 563.4 v8 M292.83 878.4 v-4 M292.83 563.4 v4 M325.67 878.4 v-8 M325.67 563.4 v8 M358.52 878.4 v-4 M358.52 563.4 v4 M391.36 878.4 v-8 M391.36 563.4 v8 M128.6 878.4 h8 M404.5 878.4 h-8 M128.6 843.9 h4 M404.5 843.9 h-4 M128.6 809.4 h8 M404.5 809.4 h-8 M128.6 774.9 h4 M404.5 774.9 h-4 M128.6 740.39 h8 M404.5 740.39 h-8 M128.6 705.89 h4 M404.5 705.89 h-4 M128.6 671.39 h8 M404.5 671.39 h-8 M128.6 636.89 h4 M404.5 636.89 h-4 M128.6 602.39 h8 M404.5 602.39 h-8 M128.6 567.89 h4 M404.5 567.89 h-4" stroke="#2e2e2e" stroke-width="1.15" fill="none"/>
<text transform="translate(128.6 904.9) scale(1 1.08)" font-size="21" text-anchor="middle">0</text>
<text transform="translate(194.29 904.9) scale(1 1.08)" font-size="21" text-anchor="middle">100</text>
<text transform="translate(259.98 904.9) scale(1 1.08)" font-size="21" text-anchor="middle">200</text>
<text transform="translate(325.67 904.9) scale(1 1.08)" font-size="21" text-anchor="middle">300</text>
<text transform="translate(391.36 904.9) scale(1 1.08)" font-size="21" text-anchor="middle">400</text>
<text transform="translate(120.7 885.2) scale(1 1.08)" font-size="21" text-anchor="end">0</text>
<text transform="translate(120.7 816.2) scale(1 1.08)" font-size="21" text-anchor="end">2</text>
<text transform="translate(120.7 747.19) scale(1 1.08)" font-size="21" text-anchor="end">4</text>
<text transform="translate(120.7 678.19) scale(1 1.08)" font-size="21" text-anchor="end">6</text>
<text transform="translate(120.7 609.19) scale(1 1.08)" font-size="21" text-anchor="end">8</text>
<text transform="translate(267.05 930.8) scale(1 1.05)" font-size="21" text-anchor="middle">Lab. Energy (Mev)</text>
<text transform="translate(87.3 720.9) rotate(-90) scale(1 1.05)" font-size="21" text-anchor="middle">Phase Shift (deg)</text>
<path d="M161.45 853.56 L162.83 851.81 L164.21 850.03 L165.59 848.21 L166.97 846.37 L168.35 844.5 L169.73 842.6 L171.11 840.68 L172.49 838.75 L173.87 836.79 L175.25 834.82 L176.63 832.84 L178.01 830.85 L179.39 828.84 L180.77 826.84 L182.15 824.83 L183.53 822.81 L184.91 820.8 L186.29 818.79 L187.67 816.79 L189.05 814.8 L190.43 812.81 L191.81 810.84 L193.19 808.88 L194.57 806.94 L195.95 805 L197.33 803.06 L198.71 801.12 L200.09 799.18 L201.47 797.23 L202.85 795.29 L204.23 793.34 L205.61 791.39 L206.99 789.45 L208.37 787.51 L209.75 785.56 L211.13 783.62 L212.51 781.69 L213.89 779.75 L215.27 777.82 L216.65 775.9 L218.03 773.98 L219.41 772.06 L220.79 770.15 L222.17 768.24 L223.55 766.34 L224.93 764.45 L226.31 762.57 L227.69 760.69 L229.07 758.81 L230.45 756.93 L231.83 755.05 L233.21 753.18 L234.59 751.3 L235.97 749.42 L237.35 747.55 L238.73 745.69 L240.11 743.82 L241.49 741.96 L242.87 740.11 L244.25 738.27 L245.63 736.43 L247.01 734.6 L248.39 732.78 L249.77 730.97 L251.15 729.17 L252.53 727.38 L253.91 725.61 L255.29 723.85 L256.67 722.1 L258.05 720.37 L259.43 718.65 L260.81 716.95 L262.19 715.25 L263.57 713.55 L264.95 711.86 L266.33 710.17 L267.71 708.49 L269.09 706.81 L270.47 705.15 L271.85 703.49 L273.23 701.84 L274.61 700.2 L275.99 698.57 L277.37 696.96 L278.75 695.36 L280.13 693.77 L281.51 692.2 L282.89 690.65 L284.27 689.11 L285.65 687.59 L287.03 686.09 L288.41 684.61 L289.79 683.15 L291.17 681.71 L292.55 680.3 L293.93 678.9 L295.31 677.51 L296.69 676.14 L298.07 674.78 L299.45 673.43 L300.83 672.09 L302.21 670.77 L303.59 669.45 L304.97 668.15 L306.35 666.87 L307.73 665.59 L309.11 664.33 L310.49 663.09 L311.87 661.85 L313.25 660.64 L314.63 659.43 L316.01 658.24 L317.39 657.07 L318.77 655.91 L320.15 654.76 L321.53 653.64 L322.91 652.52 L324.29 651.43 L325.67 650.34" fill="none" stroke="#000" stroke-width="4.6" stroke-dasharray="4.2 4.5" stroke-dashoffset="8.55"/>
<path d="M161.45 853.21 L162.83 851.42 L164.21 849.59 L165.59 847.73 L166.97 845.84 L168.35 843.91 L169.73 841.96 L171.11 839.99 L172.49 837.99 L173.87 835.97 L175.25 833.94 L176.63 831.9 L178.01 829.84 L179.39 827.77 L180.77 825.7 L182.15 823.62 L183.53 821.55 L184.91 819.47 L186.29 817.4 L187.67 815.34 L189.05 813.28 L190.43 811.24 L191.81 809.21 L193.19 807.2 L194.57 805.2 L195.95 803.22 L197.33 801.23 L198.71 799.24 L200.09 797.25 L201.47 795.26 L202.85 793.28 L204.23 791.29 L205.61 789.3 L206.99 787.32 L208.37 785.33 L209.75 783.35 L211.13 781.37 L212.51 779.39 L213.89 777.42 L215.27 775.45 L216.65 773.48 L218.03 771.52 L219.41 769.56 L220.79 767.6 L222.17 765.65 L223.55 763.71 L224.93 761.77 L226.31 759.84 L227.69 757.91 L229.07 755.98 L230.45 754.04 L231.83 752.11 L233.21 750.17 L234.59 748.23 L235.97 746.3 L237.35 744.36 L238.73 742.43 L240.11 740.5 L241.49 738.58 L242.87 736.67 L244.25 734.76 L245.63 732.86 L247.01 730.96 L248.39 729.08 L249.77 727.21 L251.15 725.36 L252.53 723.51 L253.91 721.68 L255.29 719.87 L256.67 718.07 L258.05 716.29 L259.43 714.53 L260.81 712.78 L262.19 711.04 L263.57 709.31 L264.95 707.58 L266.33 705.86 L267.71 704.15 L269.09 702.45 L270.47 700.76 L271.85 699.07 L273.23 697.4 L274.61 695.74 L275.99 694.09 L277.37 692.45 L278.75 690.83 L280.13 689.22 L281.51 687.62 L282.89 686.04 L284.27 684.48 L285.65 682.93 L287.03 681.4 L288.41 679.89 L289.79 678.4 L291.17 676.93 L292.55 675.47 L293.93 674.04 L295.31 672.61 L296.69 671.2 L298.07 669.8 L299.45 668.41 L300.83 667.03 L302.21 665.67 L303.59 664.31 L304.97 662.97 L306.35 661.65 L307.73 660.33 L309.11 659.03 L310.49 657.74 L311.87 656.46 L313.25 655.2 L314.63 653.95 L316.01 652.71 L317.39 651.49 L318.77 650.29 L320.15 649.1 L321.53 647.92 L322.91 646.76 L324.29 645.61 L325.67 644.48" fill="none" stroke="#0000ff" stroke-width="4.3" stroke-dasharray="12.2 3.7" stroke-dashoffset="2.35"/>
<path d="M161.45 852.87 L162.83 851.03 L164.21 849.15 L165.59 847.24 L166.97 845.29 L168.35 843.31 L169.73 841.3 L171.11 839.26 L172.49 837.2 L173.87 835.12 L175.25 833.02 L176.63 830.9 L178.01 828.77 L179.39 826.63 L180.77 824.48 L182.15 822.33 L183.53 820.17 L184.91 818.01 L186.29 815.85 L187.67 813.7 L189.05 811.56 L190.43 809.43 L191.81 807.31 L193.19 805.2 L194.57 803.12 L195.95 801.03 L197.33 798.94 L198.71 796.84 L200.09 794.73 L201.47 792.62 L202.85 790.51 L204.23 788.39 L205.61 786.27 L206.99 784.15 L208.37 782.04 L209.75 779.92 L211.13 777.81 L212.51 775.7 L213.89 773.6 L215.27 771.5 L216.65 769.41 L218.03 767.32 L219.41 765.25 L220.79 763.19 L222.17 761.13 L223.55 759.09 L224.93 757.06 L226.31 755.05 L227.69 753.05 L229.07 751.06 L230.45 749.08 L231.83 747.11 L233.21 745.14 L234.59 743.18 L235.97 741.23 L237.35 739.29 L238.73 737.35 L240.11 735.42 L241.49 733.5 L242.87 731.59 L244.25 729.68 L245.63 727.77 L247.01 725.87 L248.39 723.98 L249.77 722.1 L251.15 720.22 L252.53 718.34 L253.91 716.47 L255.29 714.61 L256.67 712.75 L258.05 710.9 L259.43 709.05 L260.81 707.2 L262.19 705.36 L263.57 703.52 L264.95 701.68 L266.33 699.85 L267.71 698.02 L269.09 696.2 L270.47 694.38 L271.85 692.57 L273.23 690.76 L274.61 688.96 L275.99 687.17 L277.37 685.38 L278.75 683.6 L280.13 681.82 L281.51 680.05 L282.89 678.29 L284.27 676.54 L285.65 674.8 L287.03 673.06 L288.41 671.33 L289.79 669.62 L291.17 667.91 L292.55 666.21 L293.93 664.52 L295.31 662.84 L296.69 661.16 L298.07 659.49 L299.45 657.83 L300.83 656.17 L302.21 654.52 L303.59 652.88 L304.97 651.24 L306.35 649.61 L307.73 647.99 L309.11 646.38 L310.49 644.77 L311.87 643.17 L313.25 641.58 L314.63 639.99 L316.01 638.41 L317.39 636.84 L318.77 635.28 L320.15 633.72 L321.53 632.17 L322.91 630.63 L324.29 629.1 L325.67 627.57" fill="none" stroke="#00ff00" stroke-width="4.2" stroke-dasharray="14 3.3 4.1 3.3"/>
<path d="M161.45 852.87 L162.83 851.03 L164.21 849.16 L165.59 847.25 L166.97 845.3 L168.35 843.32 L169.73 841.32 L171.11 839.28 L172.49 837.23 L173.87 835.15 L175.25 833.05 L176.63 830.94 L178.01 828.81 L179.39 826.68 L180.77 824.53 L182.15 822.38 L183.53 820.22 L184.91 818.06 L186.29 815.9 L187.67 813.75 L189.05 811.6 L190.43 809.46 L191.81 807.33 L193.19 805.21 L194.57 803.11 L195.95 801.01 L197.33 798.9 L198.71 796.79 L200.09 794.66 L201.47 792.54 L202.85 790.4 L204.23 788.27 L205.61 786.13 L206.99 783.99 L208.37 781.85 L209.75 779.71 L211.13 777.57 L212.51 775.43 L213.89 773.3 L215.27 771.17 L216.65 769.04 L218.03 766.92 L219.41 764.81 L220.79 762.71 L222.17 760.61 L223.55 758.53 L224.93 756.45 L226.31 754.39 L227.69 752.34 L229.07 750.29 L230.45 748.25 L231.83 746.21 L233.21 744.17 L234.59 742.14 L235.97 740.11 L237.35 738.08 L238.73 736.06 L240.11 734.05 L241.49 732.04 L242.87 730.04 L244.25 728.05 L245.63 726.06 L247.01 724.08 L248.39 722.11 L249.77 720.14 L251.15 718.18 L252.53 716.24 L253.91 714.3 L255.29 712.37 L256.67 710.45 L258.05 708.54 L259.43 706.65 L260.81 704.76 L262.19 702.88 L263.57 701 L264.95 699.13 L266.33 697.27 L267.71 695.42 L269.09 693.57 L270.47 691.72 L271.85 689.89 L273.23 688.06 L274.61 686.24 L275.99 684.43 L277.37 682.63 L278.75 680.84 L280.13 679.05 L281.51 677.28 L282.89 675.51 L284.27 673.76 L285.65 672.01 L287.03 670.28 L288.41 668.55 L289.79 666.84 L291.17 665.14 L292.55 663.45 L293.93 661.77 L295.31 660.1 L296.69 658.43 L298.07 656.78 L299.45 655.13 L300.83 653.49 L302.21 651.86 L303.59 650.24 L304.97 648.63 L306.35 647.02 L307.73 645.43 L309.11 643.84 L310.49 642.26 L311.87 640.69 L313.25 639.13 L314.63 637.58 L316.01 636.04 L317.39 634.5 L318.77 632.98 L320.15 631.47 L321.53 629.96 L322.91 628.47 L324.29 626.98 L325.67 625.5" fill="none" stroke="#ffff00" stroke-width="3.8" stroke-dasharray="24 3.8"/>
<path d="M161.45 852.87 L162.83 851.03 L164.21 849.16 L165.59 847.25 L166.97 845.3 L168.35 843.32 L169.73 841.32 L171.11 839.28 L172.49 837.23 L173.87 835.15 L175.25 833.05 L176.63 830.94 L178.01 828.81 L179.39 826.68 L180.77 824.53 L182.15 822.38 L183.53 820.22 L184.91 818.06 L186.29 815.9 L187.67 813.75 L189.05 811.6 L190.43 809.46 L191.81 807.33 L193.19 805.21 L194.57 803.11 L195.95 801.01 L197.33 798.9 L198.71 796.79 L200.09 794.66 L201.47 792.54 L202.85 790.4 L204.23 788.27 L205.61 786.13 L206.99 783.99 L208.37 781.85 L209.75 779.71 L211.13 777.57 L212.51 775.43 L213.89 773.3 L215.27 771.17 L216.65 769.04 L218.03 766.92 L219.41 764.81 L220.79 762.71 L222.17 760.61 L223.55 758.53 L224.93 756.45 L226.31 754.39 L227.69 752.34 L229.07 750.29 L230.45 748.25 L231.83 746.21 L233.21 744.17 L234.59 742.14 L235.97 740.11 L237.35 738.08 L238.73 736.06 L240.11 734.05 L241.49 732.04 L242.87 730.04 L244.25 728.05 L245.63 726.06 L247.01 724.08 L248.39 722.11 L249.77 720.14 L251.15 718.18 L252.53 716.24 L253.91 714.3 L255.29 712.37 L256.67 710.45 L258.05 708.54 L259.43 706.65 L260.81 704.76 L262.19 702.88 L263.57 701 L264.95 699.13 L266.33 697.27 L267.71 695.42 L269.09 693.57 L270.47 691.72 L271.85 689.89 L273.23 688.06 L274.61 686.24 L275.99 684.43 L277.37 682.63 L278.75 680.84 L280.13 679.05 L281.51 677.28 L282.89 675.51 L284.27 673.76 L285.65 672.01 L287.03 670.28 L288.41 668.55 L289.79 666.84 L291.17 665.14 L292.55 663.45 L293.93 661.77 L295.31 660.1 L296.69 658.43 L298.07 656.78 L299.45 655.13 L300.83 653.49 L302.21 651.86 L303.59 650.24 L304.97 648.63 L306.35 647.02 L307.73 645.43 L309.11 643.84 L310.49 642.26 L311.87 640.69 L313.25 639.13 L314.63 637.58 L316.01 636.04 L317.39 634.5 L318.77 632.98 L320.15 631.47 L321.53 629.96 L322.91 628.47 L324.29 626.98 L325.67 625.5" fill="none" stroke="#000" stroke-width="0.95" stroke-dasharray="24 3.8"/>
<path d="M161.45 852.87 L162.83 851.03 L164.21 849.16 L165.59 847.24 L166.97 845.3 L168.35 843.32 L169.73 841.31 L171.11 839.27 L172.49 837.22 L173.87 835.14 L175.25 833.04 L176.63 830.92 L178.01 828.79 L179.39 826.65 L180.77 824.5 L182.15 822.35 L183.53 820.19 L184.91 818.03 L186.29 815.88 L187.67 813.72 L189.05 811.58 L190.43 809.44 L191.81 807.32 L193.19 805.21 L194.57 803.11 L195.95 801.02 L197.33 798.92 L198.71 796.81 L200.09 794.7 L201.47 792.59 L202.85 790.47 L204.23 788.35 L205.61 786.22 L206.99 784.1 L208.37 781.97 L209.75 779.85 L211.13 777.72 L212.51 775.6 L213.89 773.49 L215.27 771.37 L216.65 769.27 L218.03 767.16 L219.41 765.07 L220.79 762.98 L222.17 760.9 L223.55 758.83 L224.93 756.77 L226.31 754.73 L227.69 752.69 L229.07 750.66 L230.45 748.63 L231.83 746.61 L233.21 744.58 L234.59 742.57 L235.97 740.56 L237.35 738.55 L238.73 736.55 L240.11 734.55 L241.49 732.56 L242.87 730.57 L244.25 728.6 L245.63 726.62 L247.01 724.66 L248.39 722.7 L249.77 720.75 L251.15 718.81 L252.53 716.87 L253.91 714.95 L255.29 713.03 L256.67 711.12 L258.05 709.22 L259.43 707.33 L260.81 705.45 L262.19 703.58 L263.57 701.71 L264.95 699.85 L266.33 697.99 L267.71 696.14 L269.09 694.3 L270.47 692.46 L271.85 690.63 L273.23 688.81 L274.61 687 L275.99 685.19 L277.37 683.39 L278.75 681.6 L280.13 679.81 L281.51 678.04 L282.89 676.27 L284.27 674.51 L285.65 672.76 L287.03 671.02 L288.41 669.28 L289.79 667.56 L291.17 665.84 L292.55 664.14 L293.93 662.44 L295.31 660.75 L296.69 659.07 L298.07 657.4 L299.45 655.73 L300.83 654.07 L302.21 652.42 L303.59 650.77 L304.97 649.14 L306.35 647.5 L307.73 645.88 L309.11 644.27 L310.49 642.66 L311.87 641.06 L313.25 639.47 L314.63 637.88 L316.01 636.31 L317.39 634.74 L318.77 633.18 L320.15 631.63 L321.53 630.08 L322.91 628.55 L324.29 627.02 L325.67 625.5" fill="none" stroke="#ff00ff" stroke-width="4.6" stroke-dasharray="26 3.4 4.8 3.4"/>
<path d="M161.45 852.87 L162.83 851.03 L164.21 849.16 L165.59 847.24 L166.97 845.3 L168.35 843.32 L169.73 841.31 L171.11 839.27 L172.49 837.22 L173.87 835.14 L175.25 833.04 L176.63 830.92 L178.01 828.79 L179.39 826.65 L180.77 824.5 L182.15 822.35 L183.53 820.19 L184.91 818.03 L186.29 815.88 L187.67 813.72 L189.05 811.58 L190.43 809.44 L191.81 807.32 L193.19 805.21 L194.57 803.11 L195.95 801.02 L197.33 798.92 L198.71 796.81 L200.09 794.7 L201.47 792.59 L202.85 790.47 L204.23 788.35 L205.61 786.22 L206.99 784.1 L208.37 781.97 L209.75 779.85 L211.13 777.72 L212.51 775.6 L213.89 773.49 L215.27 771.37 L216.65 769.27 L218.03 767.16 L219.41 765.07 L220.79 762.98 L222.17 760.9 L223.55 758.83 L224.93 756.77 L226.31 754.73 L227.69 752.69 L229.07 750.66 L230.45 748.63 L231.83 746.61 L233.21 744.59 L234.59 742.58 L235.97 740.57 L237.35 738.56 L238.73 736.56 L240.11 734.57 L241.49 732.58 L242.87 730.6 L244.25 728.62 L245.63 726.65 L247.01 724.69 L248.39 722.73 L249.77 720.78 L251.15 718.84 L252.53 716.9 L253.91 714.97 L255.29 713.05 L256.67 711.14 L258.05 709.23 L259.43 707.34 L260.81 705.45 L262.19 703.57 L263.57 701.69 L264.95 699.82 L266.33 697.95 L267.71 696.09 L269.09 694.24 L270.47 692.39 L271.85 690.55 L273.23 688.71 L274.61 686.89 L275.99 685.06 L277.37 683.25 L278.75 681.44 L280.13 679.64 L281.51 677.85 L282.89 676.07 L284.27 674.29 L285.65 672.52 L287.03 670.76 L288.41 669.01 L289.79 667.26 L291.17 665.53 L292.55 663.8 L293.93 662.08 L295.31 660.37 L296.69 658.66 L298.07 656.96 L299.45 655.27 L300.83 653.59 L302.21 651.91 L303.59 650.24 L304.97 648.57 L306.35 646.91 L307.73 645.26 L309.11 643.62 L310.49 641.98 L311.87 640.36 L313.25 638.73 L314.63 637.12 L316.01 635.51 L317.39 633.91 L318.77 632.32 L320.15 630.73 L321.53 629.16 L322.91 627.59 L324.29 626.02 L325.67 624.47" fill="none" stroke="#000" stroke-width="5.0"/>
<path d="M145.02 872.53 L146.52 871.56 L148.01 870.31 L149.5 868.81 L150.99 867.11 L152.49 865.25 L153.98 863.27 L155.47 861.2 L156.97 859.09 L158.46 856.97 L159.95 854.88 L161.45 852.87" fill="none" stroke="#000" stroke-width="4.4"/>
<circle cx="134.51" cy="877.36" r="5.25" fill="#fff" stroke="#000" stroke-width="1"/>
<circle cx="132.54" cy="878.05" r="5.25" fill="#fff" stroke="#000" stroke-width="1"/>
<circle cx="130.57" cy="878.4" r="5.25" fill="#fff" stroke="#000" stroke-width="1"/>
<circle cx="145.02" cy="871.84" r="4.85" fill="#fff" stroke="#000" stroke-width="2.5"/>
<circle cx="161.45" cy="851.49" r="4.85" fill="#fff" stroke="#000" stroke-width="2.5"/>
<circle cx="194.29" cy="797.67" r="4.85" fill="#fff" stroke="#000" stroke-width="2.5"/>
<circle cx="227.14" cy="740.74" r="4.85" fill="#fff" stroke="#000" stroke-width="2.5"/>
<circle cx="259.98" cy="689.68" r="4.85" fill="#fff" stroke="#000" stroke-width="2.5"/>
<circle cx="292.83" cy="645.86" r="4.85" fill="#fff" stroke="#000" stroke-width="2.5"/>
<circle cx="325.67" cy="620.67" r="4.85" fill="#fff" stroke="#000" stroke-width="2.5"/>
<circle cx="129.13" cy="878.4" r="6.6" fill="#fff"/><circle cx="129.13" cy="878.4" r="5.0" fill="#000"/>
<circle cx="145.02" cy="872.53" r="6.6" fill="#fff"/><circle cx="145.02" cy="872.53" r="5.0" fill="#000"/>
<circle cx="161.45" cy="852.87" r="6.6" fill="#fff"/><circle cx="161.45" cy="852.87" r="5.0" fill="#000"/>
<circle cx="194.29" cy="803.53" r="6.6" fill="#fff"/><circle cx="194.29" cy="803.53" r="5.0" fill="#000"/>
<circle cx="227.14" cy="753.5" r="6.6" fill="#fff"/><circle cx="227.14" cy="753.5" r="5.0" fill="#000"/>
<circle cx="259.98" cy="706.24" r="6.6" fill="#fff"/><circle cx="259.98" cy="706.24" r="5.0" fill="#000"/>
<circle cx="292.83" cy="663.11" r="6.6" fill="#fff"/><circle cx="292.83" cy="663.11" r="5.0" fill="#000"/>
<circle cx="325.67" cy="624.81" r="6.6" fill="#fff"/><circle cx="325.67" cy="624.81" r="5.0" fill="#000"/>
<text transform="translate(335.5 586.9) scale(1 1.05)" font-size="20.8" fill="#ffff00" stroke="#000" stroke-width="1.2" paint-order="stroke" stroke-linejoin="round">N3LO</text>
<text transform="translate(335.5 603) scale(1 1.05)" font-size="20.8" fill="#000">N5LO</text>
<text transform="translate(335.5 619.6) scale(1 1.05)" font-size="20.8" fill="#ff00ff">N4LO</text>
<text transform="translate(335.5 635.2) scale(1 1.05)" font-size="20.8" fill="#00ff00">N2LO</text>
<text transform="translate(335.5 651.5) scale(1 1.05)" font-size="20.8" fill="#0000ff">NLO</text>
<text transform="translate(335.5 667.8) scale(1 1.05)" font-size="20.8" fill="#000">LO</text>
<text transform="translate(176.2 602.2) scale(1 1.1)" font-size="27.6">3</text><text transform="translate(191.8 616.5) scale(1 1.12)" font-size="38.2">G</text><text transform="translate(222.6 625.1) scale(1 1.1)" font-size="27.6">4</text>
</g>
<g id="p4">
<rect x="502.5" y="563.4" width="275.9" height="315" fill="none" stroke="#2e2e2e" stroke-width="1.15"/>
<path d="M502.5 878.4 v-8 M502.5 563.4 v8 M535.35 878.4 v-4 M535.35 563.4 v4 M568.19 878.4 v-8 M568.19 563.4 v8 M601.04 878.4 v-4 M601.04 563.4 v4 M633.88 878.4 v-8 M633.88 563.4 v8 M666.73 878.4 v-4 M666.73 563.4 v4 M699.57 878.4 v-8 M699.57 563.4 v8 M732.42 878.4 v-4 M732.42 563.4 v4 M765.26 878.4 v-8 M765.26 563.4 v8 M502.5 878.4 h4 M778.4 878.4 h-4 M502.5 839.03 h8 M778.4 839.03 h-8 M502.5 799.65 h4 M778.4 799.65 h-4 M502.5 760.27 h8 M778.4 760.27 h-8 M502.5 720.9 h4 M778.4 720.9 h-4 M502.5 681.52 h8 M778.4 681.52 h-8 M502.5 642.15 h4 M778.4 642.15 h-4 M502.5 602.77 h8 M778.4 602.77 h-8 M502.5 563.4 h4 M778.4 563.4 h-4" stroke="#2e2e2e" stroke-width="1.15" fill="none"/>
<text transform="translate(502.5 904.9) scale(1 1.08)" font-size="21" text-anchor="middle">0</text>
<text transform="translate(568.19 904.9) scale(1 1.08)" font-size="21" text-anchor="middle">100</text>
<text transform="translate(633.88 904.9) scale(1 1.08)" font-size="21" text-anchor="middle">200</text>
<text transform="translate(699.57 904.9) scale(1 1.08)" font-size="21" text-anchor="middle">300</text>
<text transform="translate(765.26 904.9) scale(1 1.08)" font-size="21" text-anchor="middle">400</text>
<text transform="translate(494.6 609.57) scale(1 1.08)" font-size="21" text-anchor="end">0</text>
<text transform="translate(494.6 688.32) scale(1 1.08)" font-size="21" text-anchor="end">-0.4</text>
<text transform="translate(494.6 767.07) scale(1 1.08)" font-size="21" text-anchor="end">-0.8</text>
<text transform="translate(494.6 845.82) scale(1 1.08)" font-size="21" text-anchor="end">-1.2</text>
<text transform="translate(640.95 930.8) scale(1 1.05)" font-size="21" text-anchor="middle">Lab. Energy (Mev)</text>
<text transform="translate(443.3 720.9) rotate(-90) scale(1 1.05)" font-size="21" text-anchor="middle">Phase Shift (deg)</text>
<path d="M502.5 602.77 L504.16 602.81 L505.81 602.92 L507.47 603.09 L509.12 603.31 L510.78 603.58 L512.44 603.89 L514.09 604.23 L515.75 604.6 L517.4 604.98 L519.06 605.37 L520.72 605.83 L522.37 606.4 L524.03 607.07 L525.68 607.82 L527.34 608.65 L529 609.55 L530.65 610.5 L532.31 611.5 L533.97 612.53 L535.62 613.58 L537.28 614.73 L538.93 615.98 L540.59 617.35 L542.25 618.8 L543.9 620.34 L545.56 621.94 L547.21 623.6 L548.87 625.31 L550.53 627.05 L552.18 628.81 L553.84 630.65 L555.49 632.58 L557.15 634.58 L558.81 636.67 L560.46 638.81 L562.12 641.01 L563.77 643.26 L565.43 645.55 L567.09 647.87 L568.74 650.22 L570.4 652.68 L572.05 655.23 L573.71 657.85 L575.37 660.51 L577.02 663.18 L578.68 665.84 L580.33 668.44 L581.99 671.02 L583.65 673.61 L585.3 676.19 L586.96 678.77 L588.62 681.35 L590.27 683.93 L591.93 686.5 L593.58 689.08 L595.24 691.65 L596.9 694.22 L598.55 696.78 L600.21 699.34 L601.86 701.9 L603.52 704.45 L605.18 707 L606.83 709.55 L608.49 712.09 L610.14 714.63 L611.8 717.16 L613.46 719.69 L615.11 722.23 L616.77 724.76 L618.42 727.29 L620.08 729.82 L621.74 732.34 L623.39 734.87 L625.05 737.4 L626.7 739.93 L628.36 742.47 L630.02 745 L631.67 747.54 L633.33 750.08 L634.98 752.62 L636.64 755.16 L638.3 757.71 L639.95 760.27 L641.61 762.83 L643.27 765.39 L644.92 767.95 L646.58 770.52 L648.23 773.08 L649.89 775.65 L651.55 778.22 L653.2 780.78 L654.86 783.35 L656.51 785.91 L658.17 788.47 L659.83 791.03 L661.48 793.58 L663.14 796.12 L664.79 798.66 L666.45 801.2 L668.11 803.73 L669.76 806.25 L671.42 808.77 L673.07 811.29 L674.73 813.81 L676.39 816.33 L678.04 818.84 L679.7 821.35 L681.35 823.85 L683.01 826.36 L684.67 828.86 L686.32 831.36 L687.98 833.85 L689.64 836.34 L691.29 838.83 L692.95 841.32 L694.6 843.8 L696.26 846.28 L697.92 848.76 L699.57 851.23" fill="none" stroke="#000" stroke-width="4.6" stroke-dasharray="4.2 4.5"/>
<path d="M502.5 602.77 L504.16 602.81 L505.81 602.92 L507.47 603.09 L509.12 603.32 L510.78 603.59 L512.44 603.9 L514.09 604.24 L515.75 604.6 L517.4 604.98 L519.06 605.37 L520.72 605.82 L522.37 606.38 L524.03 607.02 L525.68 607.75 L527.34 608.55 L529 609.41 L530.65 610.31 L532.31 611.24 L533.97 612.2 L535.62 613.18 L537.28 614.22 L538.93 615.35 L540.59 616.57 L542.25 617.86 L543.9 619.2 L545.56 620.59 L547.21 622.01 L548.87 623.46 L550.53 624.92 L552.18 626.37 L553.84 627.85 L555.49 629.37 L557.15 630.92 L558.81 632.5 L560.46 634.13 L562.12 635.78 L563.77 637.47 L565.43 639.2 L567.09 640.96 L568.74 642.76 L570.4 644.63 L572.05 646.58 L573.71 648.59 L575.37 650.63 L577.02 652.67 L578.68 654.71 L580.33 656.71 L581.99 658.69 L583.65 660.68 L585.3 662.66 L586.96 664.65 L588.62 666.64 L590.27 668.62 L591.93 670.61 L593.58 672.59 L595.24 674.58 L596.9 676.56 L598.55 678.55 L600.21 680.53 L601.86 682.52 L603.52 684.5 L605.18 686.49 L606.83 688.48 L608.49 690.46 L610.14 692.45 L611.8 694.44 L613.46 696.43 L615.11 698.41 L616.77 700.4 L618.42 702.39 L620.08 704.37 L621.74 706.36 L623.39 708.34 L625.05 710.33 L626.7 712.31 L628.36 714.3 L630.02 716.28 L631.67 718.26 L633.33 720.24 L634.98 722.22 L636.64 724.2 L638.3 726.18 L639.95 728.15 L641.61 730.13 L643.27 732.1 L644.92 734.08 L646.58 736.05 L648.23 738.03 L649.89 740 L651.55 741.97 L653.2 743.94 L654.86 745.91 L656.51 747.89 L658.17 749.86 L659.83 751.83 L661.48 753.8 L663.14 755.77 L664.79 757.74 L666.45 759.71 L668.11 761.68 L669.76 763.65 L671.42 765.62 L673.07 767.59 L674.73 769.56 L676.39 771.53 L678.04 773.5 L679.7 775.47 L681.35 777.43 L683.01 779.4 L684.67 781.37 L686.32 783.33 L687.98 785.3 L689.64 787.27 L691.29 789.23 L692.95 791.2 L694.6 793.17 L696.26 795.13 L697.92 797.09 L699.57 799.06" fill="none" stroke="#0000ff" stroke-width="4.3" stroke-dasharray="12.2 3.7"/>
<path d="M502.5 602.77 L504.16 602.81 L505.81 602.91 L507.47 603.07 L509.12 603.27 L510.78 603.52 L512.44 603.81 L514.09 604.12 L515.75 604.46 L517.4 604.81 L519.06 605.17 L520.72 605.6 L522.37 606.13 L524.03 606.75 L525.68 607.46 L527.34 608.23 L529 609.05 L530.65 609.91 L532.31 610.79 L533.97 611.68 L535.62 612.57 L537.28 613.5 L538.93 614.51 L540.59 615.56 L542.25 616.67 L543.9 617.81 L545.56 618.98 L547.21 620.17 L548.87 621.37 L550.53 622.56 L552.18 623.74 L553.84 624.95 L555.49 626.2 L557.15 627.47 L558.81 628.76 L560.46 630.05 L562.12 631.34 L563.77 632.61 L565.43 633.86 L567.09 635.07 L568.74 636.24 L570.4 637.4 L572.05 638.55 L573.71 639.7 L575.37 640.84 L577.02 641.95 L578.68 643.02 L580.33 644.06 L581.99 645.04 L583.65 645.97 L585.3 646.84 L586.96 647.68 L588.62 648.5 L590.27 649.29 L591.93 650.05 L593.58 650.79 L595.24 651.48 L596.9 652.13 L598.55 652.74 L600.21 653.31 L601.86 653.82 L603.52 654.33 L605.18 654.83 L606.83 655.3 L608.49 655.76 L610.14 656.18 L611.8 656.57 L613.46 656.91 L615.11 657.2 L616.77 657.43 L618.42 657.61 L620.08 657.78 L621.74 657.94 L623.39 658.08 L625.05 658.22 L626.7 658.33 L628.36 658.41 L630.02 658.47 L631.67 658.49 L633.33 658.46 L634.98 658.36 L636.64 658.2 L638.3 657.99 L639.95 657.73 L641.61 657.42 L643.27 657.09 L644.92 656.74 L646.58 656.37 L648.23 656 L649.89 655.63 L651.55 655.25 L653.2 654.81 L654.86 654.32 L656.51 653.78 L658.17 653.21 L659.83 652.6 L661.48 651.98 L663.14 651.33 L664.79 650.64 L666.45 649.9 L668.11 649.12 L669.76 648.3 L671.42 647.46 L673.07 646.58 L674.73 645.69 L676.39 644.79 L678.04 643.88 L679.7 642.96 L681.35 642.05 L683.01 641.14 L684.67 640.2 L686.32 639.25 L687.98 638.29 L689.64 637.31 L691.29 636.31 L692.95 635.3 L694.6 634.28 L696.26 633.24 L697.92 632.19 L699.57 631.12" fill="none" stroke="#00ff00" stroke-width="4.2" stroke-dasharray="14 3.3 4.1 3.3" stroke-dashoffset="4.38"/>
<path d="M502.5 602.77 L504.16 602.81 L505.81 602.91 L507.47 603.07 L509.12 603.27 L510.78 603.52 L512.44 603.81 L514.09 604.13 L515.75 604.46 L517.4 604.81 L519.06 605.17 L520.72 605.59 L522.37 606.12 L524.03 606.73 L525.68 607.42 L527.34 608.17 L529 608.97 L530.65 609.81 L532.31 610.66 L533.97 611.52 L535.62 612.37 L537.28 613.26 L538.93 614.2 L540.59 615.2 L542.25 616.23 L543.9 617.3 L545.56 618.38 L547.21 619.48 L548.87 620.57 L550.53 621.66 L552.18 622.73 L553.84 623.82 L555.49 624.95 L557.15 626.09 L558.81 627.24 L560.46 628.39 L562.12 629.52 L563.77 630.61 L565.43 631.67 L567.09 632.66 L568.74 633.6 L570.4 634.5 L572.05 635.38 L573.71 636.23 L575.37 637.04 L577.02 637.8 L578.68 638.49 L580.33 639.12 L581.99 639.72 L583.65 640.31 L585.3 640.88 L586.96 641.41 L588.62 641.91 L590.27 642.35 L591.93 642.72 L593.58 643.01 L595.24 643.23 L596.9 643.42 L598.55 643.61 L600.21 643.78 L601.86 643.95 L603.52 644.09 L605.18 644.22 L606.83 644.33 L608.49 644.41 L610.14 644.47 L611.8 644.51 L613.46 644.51 L615.11 644.44 L616.77 644.3 L618.42 644.1 L620.08 643.85 L621.74 643.54 L623.39 643.19 L625.05 642.8 L626.7 642.39 L628.36 641.95 L630.02 641.5 L631.67 641.04 L633.33 640.52 L634.98 639.89 L636.64 639.14 L638.3 638.3 L639.95 637.38 L641.61 636.39 L643.27 635.34 L644.92 634.26 L646.58 633.14 L648.23 632.01 L649.89 630.88 L651.55 629.76 L653.2 628.6 L654.86 627.41 L656.51 626.17 L658.17 624.89 L659.83 623.57 L661.48 622.21 L663.14 620.81 L664.79 619.37 L666.45 617.89 L668.11 616.36 L669.76 614.79 L671.42 613.19 L673.07 611.54 L674.73 609.84 L676.39 608.02 L678.04 606.08 L679.7 604.05 L681.35 601.93 L683.01 599.77 L684.67 597.58 L686.32 595.38 L687.98 593.2 L689.64 591.04 L691.29 588.86 L692.95 586.64 L694.6 584.41 L696.26 582.15 L697.92 579.87 L699.57 577.57" fill="none" stroke="#ffff00" stroke-width="3.8" stroke-dasharray="24 3.8" stroke-dashoffset="27.73"/>
<path d="M502.5 602.77 L504.16 602.81 L505.81 602.91 L507.47 603.07 L509.12 603.27 L510.78 603.52 L512.44 603.81 L514.09 604.13 L515.75 604.46 L517.4 604.81 L519.06 605.17 L520.72 605.59 L522.37 606.12 L524.03 606.73 L525.68 607.42 L527.34 608.17 L529 608.97 L530.65 609.81 L532.31 610.66 L533.97 611.52 L535.62 612.37 L537.28 613.26 L538.93 614.2 L540.59 615.2 L542.25 616.23 L543.9 617.3 L545.56 618.38 L547.21 619.48 L548.87 620.57 L550.53 621.66 L552.18 622.73 L553.84 623.82 L555.49 624.95 L557.15 626.09 L558.81 627.24 L560.46 628.39 L562.12 629.52 L563.77 630.61 L565.43 631.67 L567.09 632.66 L568.74 633.6 L570.4 634.5 L572.05 635.38 L573.71 636.23 L575.37 637.04 L577.02 637.8 L578.68 638.49 L580.33 639.12 L581.99 639.72 L583.65 640.31 L585.3 640.88 L586.96 641.41 L588.62 641.91 L590.27 642.35 L591.93 642.72 L593.58 643.01 L595.24 643.23 L596.9 643.42 L598.55 643.61 L600.21 643.78 L601.86 643.95 L603.52 644.09 L605.18 644.22 L606.83 644.33 L608.49 644.41 L610.14 644.47 L611.8 644.51 L613.46 644.51 L615.11 644.44 L616.77 644.3 L618.42 644.1 L620.08 643.85 L621.74 643.54 L623.39 643.19 L625.05 642.8 L626.7 642.39 L628.36 641.95 L630.02 641.5 L631.67 641.04 L633.33 640.52 L634.98 639.89 L636.64 639.14 L638.3 638.3 L639.95 637.38 L641.61 636.39 L643.27 635.34 L644.92 634.26 L646.58 633.14 L648.23 632.01 L649.89 630.88 L651.55 629.76 L653.2 628.6 L654.86 627.41 L656.51 626.17 L658.17 624.89 L659.83 623.57 L661.48 622.21 L663.14 620.81 L664.79 619.37 L666.45 617.89 L668.11 616.36 L669.76 614.79 L671.42 613.19 L673.07 611.54 L674.73 609.84 L676.39 608.02 L678.04 606.08 L679.7 604.05 L681.35 601.93 L683.01 599.77 L684.67 597.58 L686.32 595.38 L687.98 593.2 L689.64 591.04 L691.29 588.86 L692.95 586.64 L694.6 584.41 L696.26 582.15 L697.92 579.87 L699.57 577.57" fill="none" stroke="#000" stroke-width="0.95" stroke-dasharray="24 3.8" stroke-dashoffset="27.73"/>
<path d="M502.5 602.77 L504.16 602.81 L505.81 602.91 L507.47 603.07 L509.12 603.27 L510.78 603.52 L512.44 603.81 L514.09 604.12 L515.75 604.46 L517.4 604.81 L519.06 605.17 L520.72 605.59 L522.37 606.12 L524.03 606.75 L525.68 607.45 L527.34 608.21 L529 609.03 L530.65 609.89 L532.31 610.77 L533.97 611.67 L535.62 612.57 L537.28 613.53 L538.93 614.56 L540.59 615.65 L542.25 616.8 L543.9 617.98 L545.56 619.2 L547.21 620.44 L548.87 621.68 L550.53 622.92 L552.18 624.15 L553.84 625.39 L555.49 626.67 L557.15 627.96 L558.81 629.28 L560.46 630.6 L562.12 631.92 L563.77 633.23 L565.43 634.53 L567.09 635.8 L568.74 637.05 L570.4 638.31 L572.05 639.58 L573.71 640.86 L575.37 642.12 L577.02 643.36 L578.68 644.57 L580.33 645.73 L581.99 646.84 L583.65 647.88 L585.3 648.84 L586.96 649.77 L588.62 650.67 L590.27 651.54 L591.93 652.37 L593.58 653.17 L595.24 653.94 L596.9 654.67 L598.55 655.36 L600.21 656.01 L601.86 656.63 L603.52 657.22 L605.18 657.79 L606.83 658.34 L608.49 658.87 L610.14 659.37 L611.8 659.84 L613.46 660.29 L615.11 660.71 L616.77 661.1 L618.42 661.46 L620.08 661.81 L621.74 662.16 L623.39 662.5 L625.05 662.82 L626.7 663.12 L628.36 663.39 L630.02 663.63 L631.67 663.82 L633.33 663.97 L634.98 664.07 L636.64 664.17 L638.3 664.25 L639.95 664.33 L641.61 664.37 L643.27 664.4 L644.92 664.38 L646.58 664.33 L648.23 664.25 L649.89 664.13 L651.55 663.99 L653.2 663.83 L654.86 663.65 L656.51 663.46 L658.17 663.26 L659.83 663.06 L661.48 662.84 L663.14 662.56 L664.79 662.23 L666.45 661.87 L668.11 661.47 L669.76 661.05 L671.42 660.61 L673.07 660.17 L674.73 659.73 L676.39 659.26 L678.04 658.77 L679.7 658.25 L681.35 657.7 L683.01 657.14 L684.67 656.56 L686.32 655.97 L687.98 655.37 L689.64 654.75 L691.29 654.1 L692.95 653.44 L694.6 652.76 L696.26 652.06 L697.92 651.35 L699.57 650.62" fill="none" stroke="#ff00ff" stroke-width="4.6" stroke-dasharray="26 3.4 4.8 3.4" stroke-dashoffset="7.01"/>
<path d="M502.5 602.77 L504.16 602.81 L505.81 602.91 L507.47 603.07 L509.12 603.27 L510.78 603.52 L512.44 603.81 L514.09 604.12 L515.75 604.46 L517.4 604.81 L519.06 605.17 L520.72 605.59 L522.37 606.12 L524.03 606.75 L525.68 607.45 L527.34 608.21 L529 609.03 L530.65 609.89 L532.31 610.77 L533.97 611.67 L535.62 612.57 L537.28 613.53 L538.93 614.56 L540.59 615.65 L542.25 616.8 L543.9 617.98 L545.56 619.2 L547.21 620.44 L548.87 621.68 L550.53 622.92 L552.18 624.15 L553.84 625.4 L555.49 626.68 L557.15 628 L558.81 629.32 L560.46 630.66 L562.12 631.98 L563.77 633.29 L565.43 634.58 L567.09 635.83 L568.74 637.03 L570.4 638.22 L572.05 639.39 L573.71 640.54 L575.37 641.67 L577.02 642.79 L578.68 643.89 L580.33 644.97 L581.99 646.03 L583.65 647.07 L585.3 648.08 L586.96 649.08 L588.62 650.06 L590.27 651.02 L591.93 651.97 L593.58 652.9 L595.24 653.81 L596.9 654.72 L598.55 655.6 L600.21 656.48 L601.86 657.35 L603.52 658.23 L605.18 659.11 L606.83 660 L608.49 660.9 L610.14 661.79 L611.8 662.68 L613.46 663.56 L615.11 664.43 L616.77 665.29 L618.42 666.14 L620.08 666.96 L621.74 667.76 L623.39 668.54 L625.05 669.29 L626.7 670 L628.36 670.68 L630.02 671.33 L631.67 671.93 L633.33 672.49 L634.98 673.01 L636.64 673.53 L638.3 674.03 L639.95 674.53 L641.61 675.02 L643.27 675.5 L644.92 675.96 L646.58 676.41 L648.23 676.85 L649.89 677.27 L651.55 677.67 L653.2 678.06 L654.86 678.42 L656.51 678.77 L658.17 679.09 L659.83 679.39 L661.48 679.66 L663.14 679.91 L664.79 680.12 L666.45 680.31 L668.11 680.49 L669.76 680.65 L671.42 680.82 L673.07 680.98 L674.73 681.14 L676.39 681.29 L678.04 681.44 L679.7 681.58 L681.35 681.71 L683.01 681.84 L684.67 681.96 L686.32 682.06 L687.98 682.16 L689.64 682.25 L691.29 682.33 L692.95 682.39 L694.6 682.44 L696.26 682.48 L697.92 682.5 L699.57 682.51" fill="none" stroke="#000" stroke-width="5.0"/>
<circle cx="502.5" cy="602.77" r="4.85" fill="#fff" stroke="#000" stroke-width="2.5"/>
<circle cx="535.35" cy="612.42" r="4.85" fill="#fff" stroke="#000" stroke-width="2.5"/>
<circle cx="568.19" cy="635.85" r="4.85" fill="#fff" stroke="#000" stroke-width="2.5"/>
<circle cx="601.04" cy="659.48" r="4.85" fill="#fff" stroke="#000" stroke-width="2.5"/>
<circle cx="633.88" cy="675.62" r="4.85" fill="#fff" stroke="#000" stroke-width="2.5"/>
<circle cx="666.73" cy="685.07" r="4.85" fill="#fff" stroke="#000" stroke-width="2.5"/>
<circle cx="699.57" cy="689.2" r="4.85" fill="#fff" stroke="#000" stroke-width="2.5"/>
<text transform="translate(709.9 583.7) scale(1 1.05)" font-size="20.8" fill="#ffff00" stroke="#000" stroke-width="1.2" paint-order="stroke" stroke-linejoin="round">N3LO</text>
<text transform="translate(709.9 636) scale(1 1.05)" font-size="20.8" fill="#00ff00">N2LO</text>
<text transform="translate(709.9 656.2) scale(1 1.05)" font-size="20.8" fill="#ff00ff">N4LO</text>
<text transform="translate(709.9 688) scale(1 1.05)" font-size="20.8" fill="#000">N5LO</text>
<text transform="translate(709.9 805.2) scale(1 1.05)" font-size="20.8" fill="#0000ff">NLO</text>
<text transform="translate(709.9 856.9) scale(1 1.05)" font-size="20.8" fill="#000">LO</text>
<text transform="translate(538.3 803.8) scale(1 1.1)" font-size="27.6">3</text><text transform="translate(553.9 818.1) scale(1 1.12)" font-size="38.2">G</text><text transform="translate(584.7 826.7) scale(1 1.1)" font-size="27.6">5</text>
</g>
</svg>
</body>
</html>
